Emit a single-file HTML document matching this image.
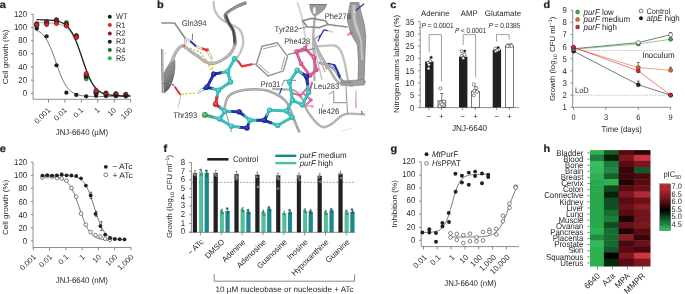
<!DOCTYPE html>
<html><head><meta charset="utf-8"><style>
html,body{margin:0;padding:0;background:#fff;}
svg{display:block;font-family:"Liberation Sans",sans-serif;will-change:transform;text-rendering:geometricPrecision;}
</style></head><body>
<svg width="685" height="294" viewBox="0 0 685 294" fill="#231f20">
<text transform="translate(-0.3 8) scale(1 0.95)" font-size="11" font-weight="bold" stroke="#231f20" stroke-width="0.25">a</text>
<line x1="33.1" y1="14" x2="33.1" y2="99.3" stroke="#6a6a6a" stroke-width="0.75" />
<line x1="30.9" y1="93.3" x2="33.1" y2="93.3" stroke="#6a6a6a" stroke-width="0.75" />
<text transform="translate(27 95.9) scale(1 1.09)" font-size="7.8" text-anchor="end" >0</text>
<line x1="30.9" y1="80.15" x2="33.1" y2="80.15" stroke="#6a6a6a" stroke-width="0.75" />
<text transform="translate(27 82.75) scale(1 1.09)" font-size="7.8" text-anchor="end" >20</text>
<line x1="30.9" y1="67" x2="33.1" y2="67" stroke="#6a6a6a" stroke-width="0.75" />
<text transform="translate(27 69.6) scale(1 1.09)" font-size="7.8" text-anchor="end" >40</text>
<line x1="30.9" y1="53.85" x2="33.1" y2="53.85" stroke="#6a6a6a" stroke-width="0.75" />
<text transform="translate(27 56.45) scale(1 1.09)" font-size="7.8" text-anchor="end" >60</text>
<line x1="30.9" y1="40.7" x2="33.1" y2="40.7" stroke="#6a6a6a" stroke-width="0.75" />
<text transform="translate(27 43.3) scale(1 1.09)" font-size="7.8" text-anchor="end" >80</text>
<line x1="30.9" y1="27.55" x2="33.1" y2="27.55" stroke="#6a6a6a" stroke-width="0.75" />
<text transform="translate(27 30.15) scale(1 1.09)" font-size="7.8" text-anchor="end" >100</text>
<line x1="30.9" y1="14.4" x2="33.1" y2="14.4" stroke="#6a6a6a" stroke-width="0.75" />
<text transform="translate(27 17) scale(1 1.09)" font-size="7.8" text-anchor="end" >120</text>
<line x1="33.1" y1="99.3" x2="131" y2="99.3" stroke="#6a6a6a" stroke-width="0.75" />
<line x1="48.5" y1="99.3" x2="48.5" y2="102.7" stroke="#6a6a6a" stroke-width="0.75" />
<line x1="64.92" y1="99.3" x2="64.92" y2="102.7" stroke="#6a6a6a" stroke-width="0.75" />
<line x1="81.34" y1="99.3" x2="81.34" y2="102.7" stroke="#6a6a6a" stroke-width="0.75" />
<line x1="97.76" y1="99.3" x2="97.76" y2="102.7" stroke="#6a6a6a" stroke-width="0.75" />
<line x1="114.18" y1="99.3" x2="114.18" y2="102.7" stroke="#6a6a6a" stroke-width="0.75" />
<line x1="130.6" y1="99.3" x2="130.6" y2="102.7" stroke="#6a6a6a" stroke-width="0.75" />
<text transform="translate(51 110.8) rotate(-44)" font-size="7.696000000000001" text-anchor="end" >0.001</text>
<text transform="translate(67.42 110.8) rotate(-44)" font-size="7.696000000000001" text-anchor="end" >0.01</text>
<text transform="translate(83.84 110.8) rotate(-44)" font-size="7.696000000000001" text-anchor="end" >0.1</text>
<text transform="translate(100.26 110.8) rotate(-44)" font-size="7.696000000000001" text-anchor="end" >1</text>
<text transform="translate(116.68 110.8) rotate(-44)" font-size="7.696000000000001" text-anchor="end" >10</text>
<text transform="translate(133.1 110.8) rotate(-44)" font-size="7.696000000000001" text-anchor="end" >100</text>
<text transform="translate(81.9 134.8) scale(1 1.09)" font-size="7.6" text-anchor="middle" textLength="52.4" lengthAdjust="spacingAndGlyphs" >JNJ-6640 (µM)</text>
<text transform="translate(7.7 56.85) scale(1 1.09) rotate(-90)" font-size="7.4" text-anchor="middle" textLength="50.18" lengthAdjust="spacingAndGlyphs" >Cell growth (%)</text>
<polyline points="36.6,30.27 37.77,30.82 38.94,31.47 40.1,32.25 41.27,33.18 42.44,34.26 43.61,35.52 44.77,36.99 45.94,38.68 47.11,40.61 48.28,42.78 49.44,45.19 50.61,47.85 51.78,50.73 52.95,53.79 54.11,57 55.28,60.3 56.45,63.63 57.62,66.94 58.78,70.15 59.95,73.23 61.12,76.12 62.29,78.79 63.45,81.22 64.62,83.4 65.79,85.34 66.95,87.05 68.12,88.53 69.29,89.8 70.46,90.9 71.62,91.83 72.79,92.62 73.96,93.28 75.13,93.84 76.3,94.31 77.46,94.7 78.63,95.02 79.8,95.29 80.97,95.52 82.13,95.7 83.3,95.86 84.47,95.98 85.64,96.09 86.8,96.18 87.97,96.25 89.14,96.31 90.31,96.36 91.47,96.4 92.64,96.43 93.81,96.46 94.97,96.48 96.14,96.5 97.31,96.51 98.48,96.53 99.65,96.54 100.81,96.55 101.98,96.55 103.15,96.56 104.31,96.56 105.48,96.57 106.65,96.57 107.82,96.57 108.99,96.58 110.15,96.58 111.32,96.58 112.49,96.58 113.66,96.58 114.82,96.58 115.99,96.58 117.16,96.58 118.32,96.59 119.49,96.59 120.66,96.59 121.83,96.59 123,96.59 124.16,96.59 125.33,96.59 126.5,96.59 127.67,96.59 128.83,96.59 130,96.59" fill="none" stroke="#231f20" stroke-width="0.6" stroke-linejoin="round" stroke-linecap="round" />
<polyline points="37,22.67 38.16,22.68 39.33,22.69 40.49,22.71 41.65,22.73 42.81,22.75 43.98,22.78 45.14,22.81 46.3,22.85 47.46,22.9 48.62,22.95 49.79,23.02 50.95,23.1 52.11,23.19 53.27,23.31 54.44,23.45 55.6,23.61 56.76,23.81 57.92,24.05 59.09,24.33 60.25,24.67 61.41,25.07 62.58,25.55 63.74,26.12 64.9,26.78 66.06,27.57 67.22,28.49 68.39,29.57 69.55,30.82 70.71,32.27 71.88,33.92 73.04,35.8 74.2,37.91 75.36,40.27 76.53,42.85 77.69,45.67 78.85,48.68 80.01,51.85 81.17,55.15 82.34,58.51 83.5,61.89 84.66,65.22 85.83,68.46 86.99,71.55 88.15,74.45 89.31,77.14 90.47,79.6 91.64,81.83 92.8,83.81 93.96,85.56 95.12,87.1 96.29,88.43 97.45,89.59 98.61,90.58 99.78,91.43 100.94,92.15 102.1,92.76 103.26,93.27 104.42,93.71 105.59,94.07 106.75,94.38 107.91,94.63 109.08,94.85 110.24,95.03 111.4,95.18 112.56,95.3 113.72,95.41 114.89,95.5 116.05,95.57 117.21,95.63 118.38,95.68 119.54,95.72 120.7,95.76 121.86,95.79 123.03,95.81 124.19,95.83 125.35,95.85 126.51,95.86 127.67,95.87 128.84,95.88 130,95.89" fill="none" stroke="#555" stroke-width="0.5" stroke-linejoin="round" stroke-linecap="round" />
<polyline points="37,19.72 38.16,19.73 39.33,19.75 40.49,19.76 41.65,19.79 42.81,19.81 43.98,19.84 45.14,19.88 46.3,19.92 47.46,19.98 48.62,20.04 49.79,20.12 50.95,20.21 52.11,20.32 53.27,20.45 54.44,20.61 55.6,20.8 56.76,21.02 57.92,21.29 59.09,21.62 60.25,22 61.41,22.46 62.58,23 63.74,23.64 64.9,24.4 66.06,25.29 67.22,26.33 68.39,27.54 69.55,28.94 70.71,30.56 71.88,32.4 73.04,34.48 74.2,36.8 75.36,39.38 76.53,42.19 77.69,45.23 78.85,48.46 80.01,51.83 81.17,55.3 82.34,58.82 83.5,62.31 84.66,65.74 85.83,69.03 86.99,72.15 88.15,75.06 89.31,77.74 90.47,80.17 91.64,82.35 92.8,84.29 93.96,86 95.12,87.48 96.29,88.77 97.45,89.88 98.61,90.84 99.78,91.65 100.94,92.33 102.1,92.92 103.26,93.41 104.42,93.82 105.59,94.17 106.75,94.46 107.91,94.7 109.08,94.91 110.24,95.08 111.4,95.22 112.56,95.34 113.72,95.44 114.89,95.52 116.05,95.59 117.21,95.65 118.38,95.69 119.54,95.73 120.7,95.77 121.86,95.79 123.03,95.82 124.19,95.84 125.35,95.85 126.51,95.86 127.67,95.88 128.84,95.88 130,95.89" fill="none" stroke="#231f20" stroke-width="1.25" stroke-linejoin="round" stroke-linecap="round" />
<circle cx="36.7" cy="24.92" r="2.15" fill="#35b04e" stroke="#231f20" stroke-width="0.45"/>
<circle cx="36.7" cy="24.92" r="2.15" fill="#156b33" stroke="#231f20" stroke-width="0.45"/>
<circle cx="36.7" cy="25.58" r="2.15" fill="#231f20" stroke="#231f20" stroke-width="0.45"/>
<circle cx="36.7" cy="23.61" r="2.15" fill="#8e1b20" stroke="#231f20" stroke-width="0.45"/>
<circle cx="36.7" cy="24.92" r="2.15" fill="#e2202a" stroke="#231f20" stroke-width="0.45"/>
<circle cx="36.7" cy="28.6" r="2.15" fill="#231f20"/>
<circle cx="46.6" cy="22.95" r="2.15" fill="#35b04e" stroke="#231f20" stroke-width="0.45"/>
<circle cx="46.6" cy="21.63" r="2.15" fill="#156b33" stroke="#231f20" stroke-width="0.45"/>
<circle cx="46.6" cy="23.61" r="2.15" fill="#231f20" stroke="#231f20" stroke-width="0.45"/>
<circle cx="46.6" cy="22.29" r="2.15" fill="#8e1b20" stroke="#231f20" stroke-width="0.45"/>
<circle cx="46.6" cy="24.59" r="2.15" fill="#e2202a" stroke="#231f20" stroke-width="0.45"/>
<circle cx="46.6" cy="36.36" r="2.15" fill="#231f20"/>
<circle cx="56.5" cy="22.29" r="2.15" fill="#35b04e" stroke="#231f20" stroke-width="0.45"/>
<circle cx="56.5" cy="20.97" r="2.15" fill="#156b33" stroke="#231f20" stroke-width="0.45"/>
<circle cx="56.5" cy="20.32" r="2.15" fill="#231f20" stroke="#231f20" stroke-width="0.45"/>
<circle cx="56.5" cy="19.66" r="2.15" fill="#8e1b20" stroke="#231f20" stroke-width="0.45"/>
<circle cx="56.5" cy="23.61" r="2.15" fill="#e2202a" stroke="#231f20" stroke-width="0.45"/>
<circle cx="56.5" cy="65.36" r="2.15" fill="#231f20"/>
<circle cx="66.4" cy="24.92" r="2.15" fill="#35b04e" stroke="#231f20" stroke-width="0.45"/>
<circle cx="66.4" cy="22.62" r="2.15" fill="#156b33" stroke="#231f20" stroke-width="0.45"/>
<circle cx="66.4" cy="24.92" r="2.15" fill="#231f20" stroke="#231f20" stroke-width="0.45"/>
<circle cx="66.4" cy="24.26" r="2.15" fill="#8e1b20" stroke="#231f20" stroke-width="0.45"/>
<circle cx="66.4" cy="25.91" r="2.15" fill="#e2202a" stroke="#231f20" stroke-width="0.45"/>
<circle cx="66.4" cy="92.64" r="2.15" fill="#231f20"/>
<circle cx="76.3" cy="37.41" r="2.15" fill="#35b04e" stroke="#231f20" stroke-width="0.45"/>
<circle cx="76.3" cy="36.1" r="2.15" fill="#156b33" stroke="#231f20" stroke-width="0.45"/>
<circle cx="76.3" cy="36.76" r="2.15" fill="#231f20" stroke="#231f20" stroke-width="0.45"/>
<circle cx="76.3" cy="35.44" r="2.15" fill="#8e1b20" stroke="#231f20" stroke-width="0.45"/>
<circle cx="76.3" cy="37.41" r="2.15" fill="#e2202a" stroke="#231f20" stroke-width="0.45"/>
<circle cx="76.3" cy="94.94" r="2.15" fill="#231f20"/>
<circle cx="86.2" cy="78.83" r="2.15" fill="#35b04e" stroke="#231f20" stroke-width="0.45"/>
<circle cx="86.2" cy="76.86" r="2.15" fill="#156b33" stroke="#231f20" stroke-width="0.45"/>
<circle cx="86.2" cy="76.2" r="2.15" fill="#231f20" stroke="#231f20" stroke-width="0.45"/>
<circle cx="86.2" cy="74.89" r="2.15" fill="#8e1b20" stroke="#231f20" stroke-width="0.45"/>
<circle cx="86.2" cy="73.58" r="2.15" fill="#e2202a" stroke="#231f20" stroke-width="0.45"/>
<circle cx="86.2" cy="96.32" r="2.15" fill="#231f20"/>
<circle cx="96.1" cy="92.64" r="2.15" fill="#35b04e" stroke="#231f20" stroke-width="0.45"/>
<circle cx="96.1" cy="92.64" r="2.15" fill="#156b33" stroke="#231f20" stroke-width="0.45"/>
<circle cx="96.1" cy="93.3" r="2.15" fill="#231f20" stroke="#231f20" stroke-width="0.45"/>
<circle cx="96.1" cy="91.33" r="2.15" fill="#8e1b20" stroke="#231f20" stroke-width="0.45"/>
<circle cx="96.1" cy="90.34" r="2.15" fill="#e2202a" stroke="#231f20" stroke-width="0.45"/>
<circle cx="96.1" cy="95.8" r="2.15" fill="#231f20"/>
<circle cx="106" cy="94.29" r="2.15" fill="#35b04e" stroke="#231f20" stroke-width="0.45"/>
<circle cx="106" cy="92.97" r="2.15" fill="#156b33" stroke="#231f20" stroke-width="0.45"/>
<circle cx="106" cy="93.96" r="2.15" fill="#231f20" stroke="#231f20" stroke-width="0.45"/>
<circle cx="106" cy="93.63" r="2.15" fill="#8e1b20" stroke="#231f20" stroke-width="0.45"/>
<circle cx="106" cy="94.61" r="2.15" fill="#e2202a" stroke="#231f20" stroke-width="0.45"/>
<circle cx="106" cy="96.06" r="2.15" fill="#231f20"/>
<circle cx="115.9" cy="93.96" r="2.15" fill="#35b04e" stroke="#231f20" stroke-width="0.45"/>
<circle cx="115.9" cy="93.63" r="2.15" fill="#156b33" stroke="#231f20" stroke-width="0.45"/>
<circle cx="115.9" cy="94.94" r="2.15" fill="#231f20" stroke="#231f20" stroke-width="0.45"/>
<circle cx="115.9" cy="94.29" r="2.15" fill="#8e1b20" stroke="#231f20" stroke-width="0.45"/>
<circle cx="115.9" cy="94.94" r="2.15" fill="#e2202a" stroke="#231f20" stroke-width="0.45"/>
<circle cx="115.9" cy="96.19" r="2.15" fill="#231f20"/>
<circle cx="125.8" cy="94.94" r="2.15" fill="#35b04e" stroke="#231f20" stroke-width="0.45"/>
<circle cx="125.8" cy="94.29" r="2.15" fill="#156b33" stroke="#231f20" stroke-width="0.45"/>
<circle cx="125.8" cy="95.6" r="2.15" fill="#231f20" stroke="#231f20" stroke-width="0.45"/>
<circle cx="125.8" cy="94.61" r="2.15" fill="#8e1b20" stroke="#231f20" stroke-width="0.45"/>
<circle cx="125.8" cy="95.27" r="2.15" fill="#e2202a" stroke="#231f20" stroke-width="0.45"/>
<circle cx="125.8" cy="96.26" r="2.15" fill="#231f20"/>
<circle cx="109.8" cy="16.8" r="2" fill="#231f20"/>
<text transform="translate(116 19.4) scale(1 1.09)" font-size="7.4" >WT</text>
<circle cx="109.8" cy="25.1" r="2" fill="#e2202a"/>
<text transform="translate(116 27.7) scale(1 1.09)" font-size="7.4" >R1</text>
<circle cx="109.8" cy="33.4" r="2" fill="#8e1b20"/>
<text transform="translate(116 36) scale(1 1.09)" font-size="7.4" >R2</text>
<circle cx="109.8" cy="41.7" r="2" fill="#231f20"/>
<text transform="translate(116 44.3) scale(1 1.09)" font-size="7.4" >R3</text>
<circle cx="109.8" cy="50" r="2" fill="#156b33"/>
<text transform="translate(116 52.6) scale(1 1.09)" font-size="7.4" >R4</text>
<circle cx="109.8" cy="58.3" r="2" fill="#35b04e"/>
<text transform="translate(116 60.9) scale(1 1.09)" font-size="7.4" >R5</text>
<text transform="translate(157 7.6) scale(1 0.95)" font-size="11" font-weight="bold" stroke="#231f20" stroke-width="0.25">b</text>
<path d="M213.5,2 C213.75,3.5 213.75,8.17 215,11 C216.25,13.83 218.17,16.67 221,19 C223.83,21.33 228.83,23.17 232,25 C235.17,26.83 238.12,27.17 240,30 C241.88,32.83 243.13,38.5 243.3,42 C243.47,45.5 242.05,48.33 241,51 C239.95,53.67 237.67,56.83 237,58" fill="none" stroke="#c2c2c2" stroke-width="2.3" stroke-linejoin="round" stroke-linecap="round" />
<path d="M297.5,3 C298.08,4.83 300,10.17 301,14 C302,17.83 302.83,22.33 303.5,26 C304.17,29.67 304.58,32.67 305,36 C305.42,39.33 305.83,44.33 306,46" fill="none" stroke="#d2d2d2" stroke-width="1.9" stroke-linejoin="round" stroke-linecap="round" />
<path d="M245,3.2 C243.5,3.83 239.25,5.12 236,7 C232.75,8.88 226.83,12 225.5,14.5 C224.17,17 226.68,19.25 228,22 C229.32,24.75 232.23,27.33 233.4,31 C234.57,34.67 235.48,40.27 235,44 C234.52,47.73 232.75,50.65 230.5,53.4 C228.25,56.15 224.5,58.8 221.5,60.5 C218.5,62.2 215.25,63.43 212.5,63.6 C209.75,63.77 207.25,62.6 205,61.5 C202.75,60.4 201.17,58.55 199,57 C196.83,55.45 194.17,53.73 192,52.2 C189.83,50.67 187.7,48.85 186,47.8 C184.3,46.75 183.47,45.2 181.8,45.9 C180.13,46.6 177.63,49.48 176,52 C174.37,54.52 173.5,58 172,61 C170.5,64 167.83,68.5 167,70" fill="none" stroke="#a2a2a2" stroke-width="3.105" stroke-linejoin="round" stroke-linecap="round" />
<path d="M245,3.2 C243.5,3.83 239.25,5.12 236,7 C232.75,8.88 226.83,12 225.5,14.5 C224.17,17 226.68,19.25 228,22 C229.32,24.75 232.23,27.33 233.4,31 C234.57,34.67 235.48,40.27 235,44 C234.52,47.73 232.75,50.65 230.5,53.4 C228.25,56.15 224.5,58.8 221.5,60.5 C218.5,62.2 215.25,63.43 212.5,63.6 C209.75,63.77 207.25,62.6 205,61.5 C202.75,60.4 201.17,58.55 199,57 C196.83,55.45 194.17,53.73 192,52.2 C189.83,50.67 187.7,48.85 186,47.8 C184.3,46.75 183.47,45.2 181.8,45.9 C180.13,46.6 177.63,49.48 176,52 C174.37,54.52 173.5,58 172,61 C170.5,64 167.83,68.5 167,70" fill="none" stroke="#cdcdcd" stroke-width="1.0867499999999999" stroke-linejoin="round" stroke-linecap="round" opacity="0.8"/>
<path d="M245,3.2 C243.5,3.83 239.25,5.12 236,7 C232.75,8.88 226.83,12 225.5,14.5 C224.17,17 226.68,19.25 228,22 C229.32,24.75 232.23,27.33 233.4,31 C234.57,34.67 234.73,41.83 235,44" fill="none" stroke="#858585" stroke-width="3.1" stroke-linejoin="round" stroke-linecap="round" />
<path d="M226.2,15.5 C226.6,16.58 227.4,19.42 228.6,22 C229.8,24.58 232.4,27.67 233.4,31 C234.4,34.33 234.4,40.17 234.6,42" fill="none" stroke="#4a4a4a" stroke-width="2.2" stroke-linejoin="round" stroke-linecap="round" />
<path d="M244,3.4 C242.67,4.07 238.83,5.6 236,7.4 C233.17,9.2 228.5,13.07 227,14.2" fill="none" stroke="#a8a8a8" stroke-width="1.0" stroke-linejoin="round" stroke-linecap="round" />
<defs><linearGradient id="lr" x1="0" y1="0" x2="0.4" y2="1"><stop offset="0" stop-color="#a0a0a0"/><stop offset="0.55" stop-color="#858585"/><stop offset="1" stop-color="#555"/></linearGradient></defs>
<path d="M161.3,49 L163.6,49 L164.2,93 L161.9,93 Z" fill="#bdbdbd"/>
<path d="M161.3,49 L161.9,49 L162.5,93 L161.9,93 Z" fill="#5a5a5a"/>
<path d="M163.4,74 C165.5,67.5 170,63 175.2,59.5 L175.4,67 C175,75 172.5,83 169,89 L164.2,93.5 Z" fill="url(#lr)"/>
<line x1="163.2" y1="83.6" x2="171.5" y2="83.6" stroke="#6a6a6a" stroke-width="1.3" />
<line x1="163.6" y1="53.4" x2="166.6" y2="53.6" stroke="#e0e0e0" stroke-width="1.3" />
<path d="M224.5,108 C225.08,106.17 225.75,99.8 228,97 C230.25,94.2 233.5,92.5 238,91.2 C242.5,89.9 249.67,89.15 255,89.2 C260.33,89.25 264.9,89.53 270,91.5 C275.1,93.47 281.72,96.58 285.6,101 C289.48,105.42 291.07,112.92 293.3,118 C295.53,123.08 298.05,129.25 299,131.5" fill="none" stroke="#9c9c9c" stroke-width="2.53" stroke-linejoin="round" stroke-linecap="round" />
<path d="M224.5,108 C225.08,106.17 225.75,99.8 228,97 C230.25,94.2 233.5,92.5 238,91.2 C242.5,89.9 249.67,89.15 255,89.2 C260.33,89.25 264.9,89.53 270,91.5 C275.1,93.47 281.72,96.58 285.6,101 C289.48,105.42 291.07,112.92 293.3,118 C295.53,123.08 298.05,129.25 299,131.5" fill="none" stroke="#c9c9c9" stroke-width="0.8854999999999998" stroke-linejoin="round" stroke-linecap="round" opacity="0.8"/>
<path d="M273,88.8 C275,88.92 281.33,89.17 285,89.5 C288.67,89.83 292,89.05 295,90.8 C298,92.55 300.83,96.47 303,100 C305.17,103.53 305.05,107.62 308,112 C310.95,116.38 316.87,124.23 320.7,126.3 C324.53,128.37 326.95,126.42 331,124.4 C335.05,122.38 339.5,115.85 345,114.2 C350.5,112.55 360.83,114.45 364,114.5" fill="none" stroke="#b2b2b2" stroke-width="2.415" stroke-linejoin="round" stroke-linecap="round" />
<line x1="225.5" y1="111" x2="231.5" y2="132" stroke="#a0a0a0" stroke-width="1.1" />
<line x1="291" y1="109" x2="299.2" y2="131.6" stroke="#a8a8a8" stroke-width="1.0" />
<line x1="341.1" y1="131.2" x2="351.3" y2="128.5" stroke="#e4e4e4" stroke-width="1.0" />
<path d="M316,46.5 C319,46.33 329.92,44.83 334,45.5 C338.08,46.17 338.75,47.75 340.5,50.5 C342.25,53.25 343.5,58.42 344.5,62 C345.5,65.58 345.92,69 346.5,72 C347.08,75 347.08,77.67 348,80 C348.92,82.33 351.33,85 352,86" fill="none" stroke="#c2c2c2" stroke-width="2.415" stroke-linejoin="round" stroke-linecap="round" />
<path d="M314,40 C314.67,41.67 316.33,46.5 318,50 C319.67,53.5 321.83,57.33 324,61 C326.17,64.67 329,68.83 331,72 C333,75.17 334.17,78 336,80 C337.83,82 339.33,83.5 342,84 C344.67,84.5 349,83.67 352,83 C355,82.33 358.67,80.5 360,80" fill="none" stroke="#a4a4a4" stroke-width="2.53" stroke-linejoin="round" stroke-linecap="round" />
<path d="M314,40 C314.67,41.67 316.33,46.5 318,50 C319.67,53.5 321.83,57.33 324,61 C326.17,64.67 329,68.83 331,72 C333,75.17 334.17,78 336,80 C337.83,82 339.33,83.5 342,84 C344.67,84.5 349,83.67 352,83 C355,82.33 358.67,80.5 360,80" fill="none" stroke="#c8c8c8" stroke-width="0.8854999999999998" stroke-linejoin="round" stroke-linecap="round" opacity="0.8"/>
<path d="M320,63 C321.33,63.33 325.5,63.83 328,65 C330.5,66.17 333,67.83 335,70 C337,72.17 338.25,75.83 340,78 C341.75,80.17 343,82.08 345.5,83 C348,83.92 351.83,83.67 355,83.5 C358.17,83.33 362.92,82.25 364.5,82" fill="none" stroke="#9a9a9a" stroke-width="2.76" stroke-linejoin="round" stroke-linecap="round" />
<path d="M320,63 C321.33,63.33 325.5,63.83 328,65 C330.5,66.17 333,67.83 335,70 C337,72.17 338.25,75.83 340,78 C341.75,80.17 343,82.08 345.5,83 C348,83.92 351.83,83.67 355,83.5 C358.17,83.33 362.92,82.25 364.5,82" fill="none" stroke="#c0c0c0" stroke-width="0.9659999999999999" stroke-linejoin="round" stroke-linecap="round" opacity="0.8"/>
<polyline points="333.6,64.8 337.1,70.7 339.5,77.9" fill="none" stroke="#2535b0" stroke-width="1.4" stroke-linejoin="round" stroke-linecap="round" />
<path d="M350.2,2.5 L358.8,2.5 L361.5,14 L364.3,24 L365.8,36 L365,55 L364,82 L358,82 L358.5,62 L357.5,45 L350.5,33 L347.3,20 Z" fill="#9c9c9c" stroke="#6a6a6a" stroke-width="0.6"/>
<path d="M352.5,5 L355.5,5 L355.8,20 L359,30 L362,40 L363,60 L361.2,60 L360,40 L355.5,30 L352.5,18 Z" fill="#c4c4c4"/>
<path d="M341,81 L358,80 L364,79.5 L364.5,85 L350,86 L341,85 Z" fill="#a0a0a0" stroke="#777" stroke-width="0.5"/>
<path d="M309.3,4 L326.8,4 C326.8,9 322,12 316.2,16 L313.6,16 C310.8,12.5 309.4,9.5 309.3,4 Z" fill="#9a9a9a"/>
<path d="M309.3,4 L326.8,4 L326.6,5 L309.5,5 Z" fill="#777"/>
<ellipse cx="314.4" cy="10.5" rx="1.5" ry="3.5" fill="#f0f0f0"/>
<path d="M315.2,15 C314.93,17.5 313.9,25 313.6,30 C313.3,35 313.3,40 313.4,45 C313.5,50 314.03,54.17 314.2,60 C314.37,65.83 314.37,76.67 314.4,80" fill="none" stroke="#9a9a9a" stroke-width="2.2" stroke-linejoin="round" stroke-linecap="round" />
<path d="M315.2,15 C314.93,17.5 313.9,25 313.6,30 C313.3,35 313.3,40 313.4,45 C313.5,50 314.03,54.17 314.2,60 C314.37,65.83 314.37,76.67 314.4,80" fill="none" stroke="#c8c8c8" stroke-width="0.8" stroke-linejoin="round" stroke-linecap="round" />
<line x1="313.5" y1="42" x2="325" y2="72" stroke="#b2b2b2" stroke-width="1.4" />
<line x1="314.5" y1="48" x2="322" y2="80" stroke="#bdbdbd" stroke-width="1.2" />
<line x1="313" y1="40" x2="320.5" y2="35" stroke="#a0a0a0" stroke-width="1.3" />
<polyline points="302.6,20.7 311.8,18.4 325.5,20.7 327.8,24.5 319.4,27.6 307.2,26.8 302.6,20.7" fill="none" stroke="#8a8a8a" stroke-width="1.6" stroke-linejoin="round" stroke-linecap="round" />
<line x1="327.8" y1="24.5" x2="347.5" y2="27" stroke="#8a8a8a" stroke-width="1.6" />
<line x1="307.2" y1="26.8" x2="298" y2="29" stroke="#8a8a8a" stroke-width="1.1" />
<polyline points="256.1,64.9 262,46.2 277.3,42.8 287.6,56.4 283.3,70.9 268,76 256.1,64.9" fill="none" stroke="#999999" stroke-width="1.5" stroke-linejoin="round" stroke-linecap="round" />
<polyline points="263.5,48.8 276.5,45.6" fill="none" stroke="#9a9a9a" stroke-width="1.0" stroke-linejoin="round" stroke-linecap="round" />
<polyline points="284.8,57 281.2,69.5" fill="none" stroke="#9a9a9a" stroke-width="1.0" stroke-linejoin="round" stroke-linecap="round" />
<polyline points="258.6,64.2 268.8,73.2" fill="none" stroke="#9a9a9a" stroke-width="1.0" stroke-linejoin="round" stroke-linecap="round" />
<line x1="287.6" y1="54.6" x2="314.8" y2="48.5" stroke="#8c8c8c" stroke-width="1.4" />
<line x1="251.6" y1="64.4" x2="255.6" y2="64.1" stroke="#8c8c8c" stroke-width="1.3" />
<polyline points="161.9,23 174.6,23 185.6,39" fill="none" stroke="#8a8a8a" stroke-width="1.6" stroke-linejoin="round" stroke-linecap="round" />
<line x1="185.6" y1="39" x2="185.2" y2="45" stroke="#9a9a9a" stroke-width="2.2" />
<line x1="185.6" y1="39" x2="185.2" y2="45" stroke="#e8e8e8" stroke-width="1.4" />
<line x1="185.6" y1="39" x2="190.2" y2="41.1" stroke="#9a9a9a" stroke-width="2.2" />
<line x1="185.6" y1="39" x2="190.2" y2="41.1" stroke="#e8e8e8" stroke-width="1.4" />
<line x1="190.2" y1="41.1" x2="196.3" y2="46.5" stroke="#2535b0" stroke-width="2.0" />
<line x1="192.5" y1="33.7" x2="192.3" y2="40" stroke="#555" stroke-width="0.8" />
<line x1="196.3" y1="46.5" x2="202" y2="48.5" stroke="#9a9a9a" stroke-width="2.6" />
<line x1="196.3" y1="46.5" x2="202" y2="48.5" stroke="#eeeeee" stroke-width="1.8" />
<line x1="202" y1="48.5" x2="207.8" y2="50.3" stroke="#e0383c" stroke-width="2.4" />
<circle cx="207.2" cy="50.2" r="1.9" fill="#e0383c"/>
<line x1="207.8" y1="51" x2="211.7" y2="58.7" stroke="#9a9a9a" stroke-width="2.6" />
<line x1="207.8" y1="51" x2="211.7" y2="58.7" stroke="#f0f0f0" stroke-width="1.8" />
<line x1="211.7" y1="58.7" x2="211.4" y2="56" stroke="#bbb" stroke-width="0.6" />
<circle cx="184.1" cy="45.7" r="1" fill="#e0383c"/>
<line x1="169.5" y1="83" x2="174.3" y2="85.5" stroke="#8a8a8a" stroke-width="1.8" />
<line x1="174.6" y1="86.5" x2="180.5" y2="94.9" stroke="#e0383c" stroke-width="2.0" />
<line x1="181" y1="95" x2="178" y2="107.2" stroke="#9a9a9a" stroke-width="0.6" />
<polyline points="186,46.8 200,52 206,60 212.5,72.5" fill="none" stroke="#c8c83a" stroke-width="1.2" stroke-dasharray="2.3 1.5"/>
<line x1="211.8" y1="59.5" x2="213.2" y2="72.5" stroke="#c8c83a" stroke-width="1.2" stroke-dasharray="2.3 1.5"/>
<line x1="181.5" y1="94.3" x2="196" y2="92.8" stroke="#c8c83a" stroke-width="1.2" stroke-dasharray="2.3 1.5"/>
<polyline points="281.8,85.7 284.1,80.4 295.6,80.4" fill="none" stroke="#9a9a9a" stroke-width="1.1" stroke-linejoin="round" stroke-linecap="round" />
<line x1="281.8" y1="88" x2="279.5" y2="94.1" stroke="#2535b0" stroke-width="1.1" />
<polyline points="329.1,94.1 333.7,91.1" fill="none" stroke="#9a9a9a" stroke-width="1.1" stroke-linejoin="round" stroke-linecap="round" />
<polyline points="333.7,91.8 333.7,102.6 346,102.6" fill="none" stroke="#9a9a9a" stroke-width="1.1" stroke-linejoin="round" stroke-linecap="round" />
<polyline points="346,86.5 347.5,113.3" fill="none" stroke="#9a9a9a" stroke-width="1.1" stroke-linejoin="round" stroke-linecap="round" />
<polyline points="342.9,82.7 352.1,82.7" fill="none" stroke="#8a8a8a" stroke-width="1.3" stroke-linejoin="round" stroke-linecap="round" />
<line x1="355.9" y1="90.5" x2="355.9" y2="98" stroke="#b0b0b0" stroke-width="1.1" />
<line x1="355.9" y1="98" x2="355.9" y2="108" stroke="#e67a7a" stroke-width="1.1" />
<line x1="322.6" y1="103.5" x2="322.8" y2="107" stroke="#e67a7a" stroke-width="0.8" />
<line x1="361.5" y1="111" x2="362.3" y2="114" stroke="#2535b0" stroke-width="0.9" />
<polyline points="319.4,37.5 324,29.9 327.8,30.6" fill="none" stroke="#2535b0" stroke-width="1.3" stroke-linejoin="round" stroke-linecap="round" />
<line x1="327.8" y1="30.6" x2="333.2" y2="32.2" stroke="#c8c8c8" stroke-width="1.2" />
<line x1="355.6" y1="10.7" x2="364" y2="3.8" stroke="#2535b0" stroke-width="1.3" />
<line x1="353.5" y1="12.5" x2="355.6" y2="10.7" stroke="#d0d0d0" stroke-width="1.3" />
<polyline points="328,63.3 334.9,64.9 340.3,76.3" fill="none" stroke="#2535b0" stroke-width="1.3" stroke-linejoin="round" stroke-linecap="round" />
<line x1="320.6" y1="35" x2="318" y2="41.5" stroke="#2535b0" stroke-width="1.1" />
<line x1="347.2" y1="34.5" x2="352.5" y2="31.4" stroke="#e0383c" stroke-width="0.8" />
<line x1="347.9" y1="35.6" x2="353.2" y2="32.5" stroke="#e0383c" stroke-width="0.8" />
<line x1="325.5" y1="66.5" x2="326.5" y2="69.5" stroke="#e0383c" stroke-width="0.9" />
<line x1="296.3" y1="51.5" x2="304.8" y2="48.4" stroke="#c04480" stroke-width="2.6" stroke-linecap="round"/>
<line x1="296.3" y1="51.5" x2="304.8" y2="48.4" stroke="#e4609e" stroke-width="1.8719999999999999" stroke-linecap="round"/>
<line x1="304.8" y1="48.4" x2="314" y2="57.6" stroke="#c04480" stroke-width="2.6" stroke-linecap="round"/>
<line x1="304.8" y1="48.4" x2="314" y2="57.6" stroke="#e4609e" stroke-width="1.8719999999999999" stroke-linecap="round"/>
<line x1="314" y1="57.6" x2="316.3" y2="69.9" stroke="#c04480" stroke-width="2.6" stroke-linecap="round"/>
<line x1="314" y1="57.6" x2="316.3" y2="69.9" stroke="#e4609e" stroke-width="1.8719999999999999" stroke-linecap="round"/>
<line x1="316.3" y1="69.9" x2="310.1" y2="75.5" stroke="#c04480" stroke-width="2.6" stroke-linecap="round"/>
<line x1="316.3" y1="69.9" x2="310.1" y2="75.5" stroke="#e4609e" stroke-width="1.8719999999999999" stroke-linecap="round"/>
<line x1="310.1" y1="75.5" x2="301" y2="63.7" stroke="#c04480" stroke-width="2.6" stroke-linecap="round"/>
<line x1="310.1" y1="75.5" x2="301" y2="63.7" stroke="#e4609e" stroke-width="1.8719999999999999" stroke-linecap="round"/>
<line x1="301" y1="63.7" x2="296.3" y2="51.5" stroke="#c04480" stroke-width="2.6" stroke-linecap="round"/>
<line x1="301" y1="63.7" x2="296.3" y2="51.5" stroke="#e4609e" stroke-width="1.8719999999999999" stroke-linecap="round"/>
<line x1="304.6" y1="47.9" x2="307.5" y2="44.5" stroke="#e4609e" stroke-width="1.8" />
<circle cx="296.3" cy="51.5" r="2.35" fill="#c04480"/>
<circle cx="296.05" cy="51.25" r="1.7" fill="#e4609e"/>
<circle cx="295.7" cy="50.9" r="0.75" fill="#f098c4"/>
<circle cx="304.8" cy="48.4" r="2.35" fill="#c04480"/>
<circle cx="304.55" cy="48.15" r="1.7" fill="#e4609e"/>
<circle cx="304.2" cy="47.8" r="0.75" fill="#f098c4"/>
<circle cx="314" cy="57.6" r="2.35" fill="#c04480"/>
<circle cx="313.75" cy="57.35" r="1.7" fill="#e4609e"/>
<circle cx="313.4" cy="57" r="0.75" fill="#f098c4"/>
<circle cx="316.3" cy="69.9" r="2.35" fill="#c04480"/>
<circle cx="316.05" cy="69.65" r="1.7" fill="#e4609e"/>
<circle cx="315.7" cy="69.3" r="0.75" fill="#f098c4"/>
<circle cx="310.1" cy="75.5" r="2.35" fill="#c04480"/>
<circle cx="309.85" cy="75.25" r="1.7" fill="#e4609e"/>
<circle cx="309.5" cy="74.9" r="0.75" fill="#f098c4"/>
<circle cx="301" cy="63.7" r="2.35" fill="#c04480"/>
<circle cx="300.75" cy="63.45" r="1.7" fill="#e4609e"/>
<circle cx="300.4" cy="63.1" r="0.75" fill="#f098c4"/>
<line x1="293.3" y1="93.4" x2="300.9" y2="95.7" stroke="#c04480" stroke-width="1.6" stroke-linecap="round"/>
<line x1="293.3" y1="93.4" x2="300.9" y2="95.7" stroke="#e4609e" stroke-width="1.152" stroke-linecap="round"/>
<line x1="300.9" y1="94.9" x2="308.6" y2="86.5" stroke="#c04480" stroke-width="1.6" stroke-linecap="round"/>
<line x1="300.9" y1="94.9" x2="308.6" y2="86.5" stroke="#e4609e" stroke-width="1.152" stroke-linecap="round"/>
<line x1="307.8" y1="75" x2="308.6" y2="84.2" stroke="#c04480" stroke-width="1.6" stroke-linecap="round"/>
<line x1="307.8" y1="75" x2="308.6" y2="84.2" stroke="#e4609e" stroke-width="1.152" stroke-linecap="round"/>
<line x1="306.3" y1="105.6" x2="312.4" y2="106.4" stroke="#f0a0c8" stroke-width="1.4" stroke-linecap="round"/>
<line x1="306.3" y1="105.6" x2="312.4" y2="106.4" stroke="#f0a0c8" stroke-width="1.008" stroke-linecap="round"/>
<circle cx="312.4" cy="106.4" r="1.6" fill="#f0a0c8"/>
<circle cx="300.5" cy="96" r="1.5" fill="#e4609e"/>
<line x1="317.4" y1="69" x2="306.2" y2="79" stroke="#c04480" stroke-width="1.8" stroke-linecap="round"/>
<line x1="317.4" y1="69" x2="306.2" y2="79" stroke="#e4609e" stroke-width="1.296" stroke-linecap="round"/>
<line x1="312" y1="82.6" x2="309.8" y2="91" stroke="#c04480" stroke-width="1.8" stroke-linecap="round"/>
<line x1="312" y1="82.6" x2="309.8" y2="91" stroke="#e4609e" stroke-width="1.296" stroke-linecap="round"/>
<line x1="303" y1="93" x2="311" y2="100" stroke="#c45a90" stroke-width="2.0" stroke-linecap="round"/>
<line x1="303" y1="93" x2="311" y2="100" stroke="#e77ab0" stroke-width="1.44" stroke-linecap="round"/>
<line x1="311" y1="100" x2="305" y2="106" stroke="#c45a90" stroke-width="2.0" stroke-linecap="round"/>
<line x1="311" y1="100" x2="305" y2="106" stroke="#e77ab0" stroke-width="1.44" stroke-linecap="round"/>
<circle cx="305.5" cy="106" r="1.9" fill="#eb8cbc"/>
<circle cx="311" cy="100" r="1.8" fill="#e4609e"/>
<line x1="234.5" y1="58.8" x2="227.5" y2="71.5" stroke="#33aeac" stroke-width="2.9" stroke-linecap="round"/>
<line x1="234.5" y1="58.8" x2="227.5" y2="71.5" stroke="#3ec3c0" stroke-width="2.088" stroke-linecap="round"/>
<line x1="227.5" y1="71.5" x2="220.65" y2="72.8" stroke="#33aeac" stroke-width="2.9" stroke-linecap="round"/>
<line x1="220.65" y1="72.8" x2="213.8" y2="74.1" stroke="#17218a" stroke-width="2.9" stroke-linecap="round"/>
<line x1="227.5" y1="71.5" x2="220.65" y2="72.8" stroke="#3ec3c0" stroke-width="2.088" stroke-linecap="round"/>
<line x1="220.65" y1="72.8" x2="213.8" y2="74.1" stroke="#2535b0" stroke-width="2.088" stroke-linecap="round"/>
<line x1="213.8" y1="74.1" x2="206.9" y2="87.2" stroke="#17218a" stroke-width="2.9" stroke-linecap="round"/>
<line x1="213.8" y1="74.1" x2="206.9" y2="87.2" stroke="#2535b0" stroke-width="2.088" stroke-linecap="round"/>
<line x1="206.9" y1="87.2" x2="212.65" y2="88.7" stroke="#17218a" stroke-width="2.9" stroke-linecap="round"/>
<line x1="212.65" y1="88.7" x2="218.4" y2="90.2" stroke="#33aeac" stroke-width="2.9" stroke-linecap="round"/>
<line x1="206.9" y1="87.2" x2="212.65" y2="88.7" stroke="#2535b0" stroke-width="2.088" stroke-linecap="round"/>
<line x1="212.65" y1="88.7" x2="218.4" y2="90.2" stroke="#3ec3c0" stroke-width="2.088" stroke-linecap="round"/>
<line x1="218.4" y1="90.2" x2="230.5" y2="82" stroke="#33aeac" stroke-width="2.9" stroke-linecap="round"/>
<line x1="218.4" y1="90.2" x2="230.5" y2="82" stroke="#3ec3c0" stroke-width="2.088" stroke-linecap="round"/>
<line x1="230.5" y1="82" x2="227.5" y2="71.5" stroke="#33aeac" stroke-width="2.9" stroke-linecap="round"/>
<line x1="230.5" y1="82" x2="227.5" y2="71.5" stroke="#3ec3c0" stroke-width="2.088" stroke-linecap="round"/>
<line x1="206.9" y1="87.2" x2="202.75" y2="89.5" stroke="#17218a" stroke-width="2.9" stroke-linecap="round"/>
<line x1="202.75" y1="89.5" x2="198.6" y2="91.8" stroke="#aaaaaa" stroke-width="2.9" stroke-linecap="round"/>
<line x1="206.9" y1="87.2" x2="202.75" y2="89.5" stroke="#2535b0" stroke-width="2.088" stroke-linecap="round"/>
<line x1="202.75" y1="89.5" x2="198.6" y2="91.8" stroke="#e8e8e8" stroke-width="2.088" stroke-linecap="round"/>
<line x1="218.4" y1="90.2" x2="216.95" y2="97.2" stroke="#33aeac" stroke-width="2.9" stroke-linecap="round"/>
<line x1="216.95" y1="97.2" x2="215.5" y2="104.2" stroke="#b02024" stroke-width="2.9" stroke-linecap="round"/>
<line x1="218.4" y1="90.2" x2="216.95" y2="97.2" stroke="#3ec3c0" stroke-width="2.088" stroke-linecap="round"/>
<line x1="216.95" y1="97.2" x2="215.5" y2="104.2" stroke="#e0383c" stroke-width="2.088" stroke-linecap="round"/>
<line x1="215.5" y1="104.2" x2="220.25" y2="107.75" stroke="#b02024" stroke-width="2.9" stroke-linecap="round"/>
<line x1="220.25" y1="107.75" x2="225" y2="111.3" stroke="#33aeac" stroke-width="2.9" stroke-linecap="round"/>
<line x1="215.5" y1="104.2" x2="220.25" y2="107.75" stroke="#e0383c" stroke-width="2.088" stroke-linecap="round"/>
<line x1="220.25" y1="107.75" x2="225" y2="111.3" stroke="#3ec3c0" stroke-width="2.088" stroke-linecap="round"/>
<line x1="225" y1="111.3" x2="232.15" y2="111.6" stroke="#33aeac" stroke-width="2.9" stroke-linecap="round"/>
<line x1="232.15" y1="111.6" x2="239.3" y2="111.9" stroke="#17218a" stroke-width="2.9" stroke-linecap="round"/>
<line x1="225" y1="111.3" x2="232.15" y2="111.6" stroke="#3ec3c0" stroke-width="2.088" stroke-linecap="round"/>
<line x1="232.15" y1="111.6" x2="239.3" y2="111.9" stroke="#2535b0" stroke-width="2.088" stroke-linecap="round"/>
<line x1="239.3" y1="111.9" x2="244.65" y2="116.05" stroke="#17218a" stroke-width="2.9" stroke-linecap="round"/>
<line x1="244.65" y1="116.05" x2="250" y2="120.2" stroke="#33aeac" stroke-width="2.9" stroke-linecap="round"/>
<line x1="239.3" y1="111.9" x2="244.65" y2="116.05" stroke="#2535b0" stroke-width="2.088" stroke-linecap="round"/>
<line x1="244.65" y1="116.05" x2="250" y2="120.2" stroke="#3ec3c0" stroke-width="2.088" stroke-linecap="round"/>
<line x1="250" y1="120.2" x2="248.5" y2="124.1" stroke="#33aeac" stroke-width="2.9" stroke-linecap="round"/>
<line x1="248.5" y1="124.1" x2="247" y2="128" stroke="#17218a" stroke-width="2.9" stroke-linecap="round"/>
<line x1="250" y1="120.2" x2="248.5" y2="124.1" stroke="#3ec3c0" stroke-width="2.088" stroke-linecap="round"/>
<line x1="248.5" y1="124.1" x2="247" y2="128" stroke="#2535b0" stroke-width="2.088" stroke-linecap="round"/>
<line x1="247" y1="128" x2="239.25" y2="127.1" stroke="#17218a" stroke-width="2.9" stroke-linecap="round"/>
<line x1="239.25" y1="127.1" x2="231.5" y2="126.2" stroke="#33aeac" stroke-width="2.9" stroke-linecap="round"/>
<line x1="247" y1="128" x2="239.25" y2="127.1" stroke="#2535b0" stroke-width="2.088" stroke-linecap="round"/>
<line x1="239.25" y1="127.1" x2="231.5" y2="126.2" stroke="#3ec3c0" stroke-width="2.088" stroke-linecap="round"/>
<line x1="231.5" y1="126.2" x2="219.6" y2="119" stroke="#33aeac" stroke-width="2.9" stroke-linecap="round"/>
<line x1="231.5" y1="126.2" x2="219.6" y2="119" stroke="#3ec3c0" stroke-width="2.088" stroke-linecap="round"/>
<line x1="219.6" y1="119" x2="225" y2="111.3" stroke="#33aeac" stroke-width="2.9" stroke-linecap="round"/>
<line x1="219.6" y1="119" x2="225" y2="111.3" stroke="#3ec3c0" stroke-width="2.088" stroke-linecap="round"/>
<line x1="219.6" y1="119" x2="212.2" y2="116.95" stroke="#33aeac" stroke-width="2.9" stroke-linecap="round"/>
<line x1="212.2" y1="116.95" x2="204.8" y2="114.9" stroke="#2f8a52" stroke-width="2.9" stroke-linecap="round"/>
<line x1="219.6" y1="119" x2="212.2" y2="116.95" stroke="#3ec3c0" stroke-width="2.088" stroke-linecap="round"/>
<line x1="212.2" y1="116.95" x2="204.8" y2="114.9" stroke="#4caf74" stroke-width="2.088" stroke-linecap="round"/>
<line x1="250" y1="120.2" x2="257.2" y2="120.25" stroke="#33aeac" stroke-width="2.9" stroke-linecap="round"/>
<line x1="257.2" y1="120.25" x2="264.4" y2="120.3" stroke="#17218a" stroke-width="2.9" stroke-linecap="round"/>
<line x1="250" y1="120.2" x2="257.2" y2="120.25" stroke="#3ec3c0" stroke-width="2.088" stroke-linecap="round"/>
<line x1="257.2" y1="120.25" x2="264.4" y2="120.3" stroke="#2535b0" stroke-width="2.088" stroke-linecap="round"/>
<line x1="264.4" y1="120.3" x2="266.95" y2="115.2" stroke="#17218a" stroke-width="2.9" stroke-linecap="round"/>
<line x1="266.95" y1="115.2" x2="269.5" y2="110.1" stroke="#33aeac" stroke-width="2.9" stroke-linecap="round"/>
<line x1="264.4" y1="120.3" x2="266.95" y2="115.2" stroke="#2535b0" stroke-width="2.088" stroke-linecap="round"/>
<line x1="266.95" y1="115.2" x2="269.5" y2="110.1" stroke="#3ec3c0" stroke-width="2.088" stroke-linecap="round"/>
<line x1="269.5" y1="110.1" x2="286.5" y2="111" stroke="#33aeac" stroke-width="2.9" stroke-linecap="round"/>
<line x1="269.5" y1="110.1" x2="286.5" y2="111" stroke="#3ec3c0" stroke-width="2.088" stroke-linecap="round"/>
<line x1="286.5" y1="111" x2="292" y2="117.3" stroke="#33aeac" stroke-width="2.9" stroke-linecap="round"/>
<line x1="286.5" y1="111" x2="292" y2="117.3" stroke="#3ec3c0" stroke-width="2.088" stroke-linecap="round"/>
<line x1="292" y1="117.3" x2="277.7" y2="125.4" stroke="#33aeac" stroke-width="2.9" stroke-linecap="round"/>
<line x1="292" y1="117.3" x2="277.7" y2="125.4" stroke="#3ec3c0" stroke-width="2.088" stroke-linecap="round"/>
<line x1="277.7" y1="125.4" x2="271.05" y2="122.85" stroke="#33aeac" stroke-width="2.9" stroke-linecap="round"/>
<line x1="271.05" y1="122.85" x2="264.4" y2="120.3" stroke="#17218a" stroke-width="2.9" stroke-linecap="round"/>
<line x1="277.7" y1="125.4" x2="271.05" y2="122.85" stroke="#3ec3c0" stroke-width="2.088" stroke-linecap="round"/>
<line x1="271.05" y1="122.85" x2="264.4" y2="120.3" stroke="#2535b0" stroke-width="2.088" stroke-linecap="round"/>
<line x1="286.5" y1="111" x2="292.5" y2="100.3" stroke="#33aeac" stroke-width="2.9" stroke-linecap="round"/>
<line x1="286.5" y1="111" x2="292.5" y2="100.3" stroke="#3ec3c0" stroke-width="2.088" stroke-linecap="round"/>
<line x1="292.5" y1="100.3" x2="302.5" y2="104.9" stroke="#33aeac" stroke-width="2.9" stroke-linecap="round"/>
<line x1="292.5" y1="100.3" x2="302.5" y2="104.9" stroke="#3ec3c0" stroke-width="2.088" stroke-linecap="round"/>
<line x1="302.5" y1="104.9" x2="308.6" y2="92.6" stroke="#33aeac" stroke-width="2.9" stroke-linecap="round"/>
<line x1="302.5" y1="104.9" x2="308.6" y2="92.6" stroke="#3ec3c0" stroke-width="2.088" stroke-linecap="round"/>
<line x1="308.6" y1="92.6" x2="307.5" y2="84.4" stroke="#33aeac" stroke-width="2.9" stroke-linecap="round"/>
<line x1="307.5" y1="84.4" x2="306.4" y2="76.2" stroke="#17218a" stroke-width="2.9" stroke-linecap="round"/>
<line x1="308.6" y1="92.6" x2="307.5" y2="84.4" stroke="#3ec3c0" stroke-width="2.088" stroke-linecap="round"/>
<line x1="307.5" y1="84.4" x2="306.4" y2="76.2" stroke="#2535b0" stroke-width="2.088" stroke-linecap="round"/>
<line x1="306.4" y1="76.2" x2="301.8" y2="73.2" stroke="#17218a" stroke-width="2.9" stroke-linecap="round"/>
<line x1="301.8" y1="73.2" x2="297.2" y2="70.2" stroke="#33aeac" stroke-width="2.9" stroke-linecap="round"/>
<line x1="306.4" y1="76.2" x2="301.8" y2="73.2" stroke="#2535b0" stroke-width="2.088" stroke-linecap="round"/>
<line x1="301.8" y1="73.2" x2="297.2" y2="70.2" stroke="#3ec3c0" stroke-width="2.088" stroke-linecap="round"/>
<line x1="297.2" y1="70.2" x2="289.5" y2="81.9" stroke="#33aeac" stroke-width="2.9" stroke-linecap="round"/>
<line x1="297.2" y1="70.2" x2="289.5" y2="81.9" stroke="#3ec3c0" stroke-width="2.088" stroke-linecap="round"/>
<line x1="289.5" y1="81.9" x2="292.5" y2="100.3" stroke="#33aeac" stroke-width="2.9" stroke-linecap="round"/>
<line x1="289.5" y1="81.9" x2="292.5" y2="100.3" stroke="#3ec3c0" stroke-width="2.088" stroke-linecap="round"/>
<line x1="234.5" y1="58.8" x2="238.7" y2="61.8" stroke="#3ec3c0" stroke-width="2.6" />
<polyline points="238.7,61.8 241.8,66.4 251.6,64.4" fill="none" stroke="#e0383c" stroke-width="2.2" stroke-linejoin="round" stroke-linecap="round" />
<line x1="229.9" y1="80.3" x2="232" y2="76" stroke="#3ec3c0" stroke-width="0.5" />
<circle cx="234.5" cy="58.8" r="2.7" fill="#33aeac"/>
<circle cx="234.3" cy="58.6" r="2.16" fill="#3ec3c0"/>
<circle cx="233.9" cy="58.2" r="0.86" fill="#7edcda"/>
<circle cx="213.8" cy="74.1" r="2.7" fill="#17218a"/>
<circle cx="213.6" cy="73.9" r="2.16" fill="#2535b0"/>
<circle cx="213.2" cy="73.5" r="0.86" fill="#4a5ad0"/>
<circle cx="227.5" cy="71.5" r="2.7" fill="#33aeac"/>
<circle cx="227.3" cy="71.3" r="2.16" fill="#3ec3c0"/>
<circle cx="226.9" cy="70.9" r="0.86" fill="#7edcda"/>
<circle cx="230.5" cy="82" r="2.7" fill="#33aeac"/>
<circle cx="230.3" cy="81.8" r="2.16" fill="#3ec3c0"/>
<circle cx="229.9" cy="81.4" r="0.86" fill="#7edcda"/>
<circle cx="218.4" cy="90.2" r="2.7" fill="#33aeac"/>
<circle cx="218.2" cy="90" r="2.16" fill="#3ec3c0"/>
<circle cx="217.8" cy="89.6" r="0.86" fill="#7edcda"/>
<circle cx="206.9" cy="87.2" r="2.7" fill="#17218a"/>
<circle cx="206.7" cy="87" r="2.16" fill="#2535b0"/>
<circle cx="206.3" cy="86.6" r="0.86" fill="#4a5ad0"/>
<circle cx="198.6" cy="91.8" r="1.9" fill="#aaaaaa"/>
<circle cx="198.4" cy="91.6" r="1.52" fill="#e8e8e8"/>
<circle cx="198" cy="91.2" r="0.61" fill="#ffffff"/>
<circle cx="215.5" cy="104.2" r="2.7" fill="#b02024"/>
<circle cx="215.3" cy="104" r="2.16" fill="#e0383c"/>
<circle cx="214.9" cy="103.6" r="0.86" fill="#f07070"/>
<circle cx="225" cy="111.3" r="2.7" fill="#33aeac"/>
<circle cx="224.8" cy="111.1" r="2.16" fill="#3ec3c0"/>
<circle cx="224.4" cy="110.7" r="0.86" fill="#7edcda"/>
<circle cx="239.3" cy="111.9" r="2.7" fill="#17218a"/>
<circle cx="239.1" cy="111.7" r="2.16" fill="#2535b0"/>
<circle cx="238.7" cy="111.3" r="0.86" fill="#4a5ad0"/>
<circle cx="250" cy="120.2" r="2.7" fill="#33aeac"/>
<circle cx="249.8" cy="120" r="2.16" fill="#3ec3c0"/>
<circle cx="249.4" cy="119.6" r="0.86" fill="#7edcda"/>
<circle cx="247" cy="128" r="2.7" fill="#17218a"/>
<circle cx="246.8" cy="127.8" r="2.16" fill="#2535b0"/>
<circle cx="246.4" cy="127.4" r="0.86" fill="#4a5ad0"/>
<circle cx="231.5" cy="126.2" r="2.7" fill="#33aeac"/>
<circle cx="231.3" cy="126" r="2.16" fill="#3ec3c0"/>
<circle cx="230.9" cy="125.6" r="0.86" fill="#7edcda"/>
<circle cx="219.6" cy="119" r="2.7" fill="#33aeac"/>
<circle cx="219.4" cy="118.8" r="2.16" fill="#3ec3c0"/>
<circle cx="219" cy="118.4" r="0.86" fill="#7edcda"/>
<circle cx="204.8" cy="114.9" r="2.9" fill="#2f8a52"/>
<circle cx="204.6" cy="114.7" r="2.32" fill="#4caf74"/>
<circle cx="204.2" cy="114.3" r="0.93" fill="#80d0a0"/>
<circle cx="264.4" cy="120.3" r="2.7" fill="#17218a"/>
<circle cx="264.2" cy="120.1" r="2.16" fill="#2535b0"/>
<circle cx="263.8" cy="119.7" r="0.86" fill="#4a5ad0"/>
<circle cx="269.5" cy="110.1" r="2.7" fill="#33aeac"/>
<circle cx="269.3" cy="109.9" r="2.16" fill="#3ec3c0"/>
<circle cx="268.9" cy="109.5" r="0.86" fill="#7edcda"/>
<circle cx="286.5" cy="111" r="2.7" fill="#33aeac"/>
<circle cx="286.3" cy="110.8" r="2.16" fill="#3ec3c0"/>
<circle cx="285.9" cy="110.4" r="0.86" fill="#7edcda"/>
<circle cx="292" cy="117.3" r="2.7" fill="#33aeac"/>
<circle cx="291.8" cy="117.1" r="2.16" fill="#3ec3c0"/>
<circle cx="291.4" cy="116.7" r="0.86" fill="#7edcda"/>
<circle cx="277.7" cy="125.4" r="2.7" fill="#33aeac"/>
<circle cx="277.5" cy="125.2" r="2.16" fill="#3ec3c0"/>
<circle cx="277.1" cy="124.8" r="0.86" fill="#7edcda"/>
<circle cx="292.5" cy="100.3" r="2.7" fill="#33aeac"/>
<circle cx="292.3" cy="100.1" r="2.16" fill="#3ec3c0"/>
<circle cx="291.9" cy="99.7" r="0.86" fill="#7edcda"/>
<circle cx="302.5" cy="104.9" r="2.7" fill="#33aeac"/>
<circle cx="302.3" cy="104.7" r="2.16" fill="#3ec3c0"/>
<circle cx="301.9" cy="104.3" r="0.86" fill="#7edcda"/>
<circle cx="308.6" cy="92.6" r="2.7" fill="#33aeac"/>
<circle cx="308.4" cy="92.4" r="2.16" fill="#3ec3c0"/>
<circle cx="308" cy="92" r="0.86" fill="#7edcda"/>
<circle cx="306.4" cy="76.2" r="2.7" fill="#17218a"/>
<circle cx="306.2" cy="76" r="2.16" fill="#2535b0"/>
<circle cx="305.8" cy="75.6" r="0.86" fill="#4a5ad0"/>
<circle cx="297.2" cy="70.2" r="2.7" fill="#33aeac"/>
<circle cx="297" cy="70" r="2.16" fill="#3ec3c0"/>
<circle cx="296.6" cy="69.6" r="0.86" fill="#7edcda"/>
<circle cx="289.5" cy="81.9" r="2.7" fill="#33aeac"/>
<circle cx="289.3" cy="81.7" r="2.16" fill="#3ec3c0"/>
<circle cx="288.9" cy="81.3" r="0.86" fill="#7edcda"/>
<text transform="translate(181.8 25.6) scale(1 1.09)" font-size="7.5" textLength="24.6" lengthAdjust="spacingAndGlyphs" fill="#333" >Gln394</text>
<text transform="translate(274.6 32.1) scale(1 1.09)" font-size="7.5" textLength="23.6" lengthAdjust="spacingAndGlyphs" fill="#333" >Tyr282</text>
<text transform="translate(324.8 19.4) scale(1 1.09)" font-size="7.5" textLength="26.2" lengthAdjust="spacingAndGlyphs" fill="#333" >Phe278</text>
<text transform="translate(284.2 44.3) scale(1 1.09)" font-size="7.5" textLength="26" lengthAdjust="spacingAndGlyphs" fill="#333" >Phe428</text>
<text transform="translate(260.8 87) scale(1 1.09)" font-size="7.5" textLength="19.6" lengthAdjust="spacingAndGlyphs" fill="#333" >Pro31</text>
<text transform="translate(313.8 88.5) scale(1 1.09)" font-size="7.5" textLength="25.4" lengthAdjust="spacingAndGlyphs" fill="#333" >Leu283</text>
<text transform="translate(318.3 114.4) scale(1 1.09)" font-size="7.5" textLength="20.9" lengthAdjust="spacingAndGlyphs" fill="#333" >Ile426</text>
<text transform="translate(173.3 117.7) scale(1 1.09)" font-size="7.5" textLength="23.9" lengthAdjust="spacingAndGlyphs" fill="#333" >Thr393</text>
<text transform="translate(390.3 8) scale(1 0.95)" font-size="11" font-weight="bold" stroke="#231f20" stroke-width="0.25">c</text>
<line x1="420.2" y1="21.58" x2="420.2" y2="107.5" stroke="#6a6a6a" stroke-width="0.75" />
<line x1="418" y1="107.5" x2="420.2" y2="107.5" stroke="#6a6a6a" stroke-width="0.75" />
<text transform="translate(414.3 110.5) scale(1 1.09)" font-size="7.8" text-anchor="end" >0</text>
<line x1="418" y1="95.22" x2="420.2" y2="95.22" stroke="#6a6a6a" stroke-width="0.75" />
<text transform="translate(414.3 98.22) scale(1 1.09)" font-size="7.8" text-anchor="end" >5</text>
<line x1="418" y1="82.95" x2="420.2" y2="82.95" stroke="#6a6a6a" stroke-width="0.75" />
<text transform="translate(414.3 85.95) scale(1 1.09)" font-size="7.8" text-anchor="end" >10</text>
<line x1="418" y1="70.67" x2="420.2" y2="70.67" stroke="#6a6a6a" stroke-width="0.75" />
<text transform="translate(414.3 73.67) scale(1 1.09)" font-size="7.8" text-anchor="end" >15</text>
<line x1="418" y1="58.4" x2="420.2" y2="58.4" stroke="#6a6a6a" stroke-width="0.75" />
<text transform="translate(414.3 61.4) scale(1 1.09)" font-size="7.8" text-anchor="end" >20</text>
<line x1="418" y1="46.12" x2="420.2" y2="46.12" stroke="#6a6a6a" stroke-width="0.75" />
<text transform="translate(414.3 49.12) scale(1 1.09)" font-size="7.8" text-anchor="end" >25</text>
<line x1="418" y1="33.85" x2="420.2" y2="33.85" stroke="#6a6a6a" stroke-width="0.75" />
<text transform="translate(414.3 36.85) scale(1 1.09)" font-size="7.8" text-anchor="end" >30</text>
<line x1="418" y1="21.58" x2="420.2" y2="21.58" stroke="#6a6a6a" stroke-width="0.75" />
<text transform="translate(414.3 24.58) scale(1 1.09)" font-size="7.8" text-anchor="end" >35</text>
<line x1="419" y1="101.36" x2="420.2" y2="101.36" stroke="#6a6a6a" stroke-width="0.75" />
<line x1="419" y1="89.09" x2="420.2" y2="89.09" stroke="#6a6a6a" stroke-width="0.75" />
<line x1="419" y1="76.81" x2="420.2" y2="76.81" stroke="#6a6a6a" stroke-width="0.75" />
<line x1="419" y1="64.54" x2="420.2" y2="64.54" stroke="#6a6a6a" stroke-width="0.75" />
<line x1="419" y1="52.26" x2="420.2" y2="52.26" stroke="#6a6a6a" stroke-width="0.75" />
<line x1="419" y1="39.99" x2="420.2" y2="39.99" stroke="#6a6a6a" stroke-width="0.75" />
<line x1="419" y1="27.71" x2="420.2" y2="27.71" stroke="#6a6a6a" stroke-width="0.75" />
<line x1="420.2" y1="107.6" x2="518.8" y2="107.6" stroke="#6a6a6a" stroke-width="0.75" />
<line x1="428.9" y1="107.6" x2="428.9" y2="110.2" stroke="#6a6a6a" stroke-width="0.75" />
<text transform="translate(428.9 118.7) scale(1 1.09)" font-size="7.4" text-anchor="middle" >−</text>
<line x1="441.5" y1="107.6" x2="441.5" y2="110.2" stroke="#6a6a6a" stroke-width="0.75" />
<text transform="translate(441.5 118.7) scale(1 1.09)" font-size="7.4" text-anchor="middle" >+</text>
<line x1="462.6" y1="107.6" x2="462.6" y2="110.2" stroke="#6a6a6a" stroke-width="0.75" />
<text transform="translate(462.6 118.7) scale(1 1.09)" font-size="7.4" text-anchor="middle" >−</text>
<line x1="475.3" y1="107.6" x2="475.3" y2="110.2" stroke="#6a6a6a" stroke-width="0.75" />
<text transform="translate(475.3 118.7) scale(1 1.09)" font-size="7.4" text-anchor="middle" >+</text>
<line x1="496.7" y1="107.6" x2="496.7" y2="110.2" stroke="#6a6a6a" stroke-width="0.75" />
<text transform="translate(496.7 118.7) scale(1 1.09)" font-size="7.4" text-anchor="middle" >−</text>
<line x1="509.4" y1="107.6" x2="509.4" y2="110.2" stroke="#6a6a6a" stroke-width="0.75" />
<text transform="translate(509.4 118.7) scale(1 1.09)" font-size="7.4" text-anchor="middle" >+</text>
<text transform="translate(469.5 131.3) scale(1 1.09)" font-size="8.0" text-anchor="middle" textLength="35" lengthAdjust="spacingAndGlyphs" >JNJ-6640</text>
<text transform="translate(398.9 63.9) scale(1 1.09) rotate(-90)" font-size="7.4" text-anchor="middle" textLength="90.09" lengthAdjust="spacingAndGlyphs" >Nitrogen atoms labelled (%)</text>
<rect x="425.1" y="61.59" width="8.4" height="45.91" fill="#231f20"/>
<rect x="438" y="100.87" width="7.8" height="6.63" fill="#fff" stroke="#231f20" stroke-width="0.6"/>
<rect x="459" y="56.68" width="8.4" height="50.82" fill="#231f20"/>
<rect x="471.6" y="91.3" width="7.8" height="16.2" fill="#fff" stroke="#231f20" stroke-width="0.6"/>
<rect x="492.7" y="49.81" width="8.4" height="57.69" fill="#231f20"/>
<rect x="505.6" y="46.12" width="7.8" height="61.38" fill="#fff" stroke="#231f20" stroke-width="0.6"/>
<line x1="441.8" y1="100.87" x2="441.8" y2="93.51" stroke="#231f20" stroke-width="0.6" />
<line x1="440.2" y1="93.51" x2="443.4" y2="93.51" stroke="#231f20" stroke-width="0.6" />
<line x1="475.5" y1="91.3" x2="475.5" y2="86.88" stroke="#231f20" stroke-width="0.6" />
<line x1="473.9" y1="86.88" x2="477.1" y2="86.88" stroke="#231f20" stroke-width="0.6" />
<circle cx="428.1" cy="62.82" r="1.5" fill="#fff" stroke="#231f20" stroke-width="0.55"/>
<circle cx="431.1" cy="57.42" r="1.6" fill="#231f20" stroke="#fff" stroke-width="0.4"/>
<circle cx="430.3" cy="61.1" r="1.5" fill="#fff" stroke="#231f20" stroke-width="0.55"/>
<circle cx="428.9" cy="64.78" r="1.5" fill="#fff" stroke="#231f20" stroke-width="0.55"/>
<circle cx="428.5" cy="68.47" r="1.5" fill="#fff" stroke="#231f20" stroke-width="0.55"/>
<circle cx="461.7" cy="51.28" r="1.5" fill="#fff" stroke="#231f20" stroke-width="0.55"/>
<circle cx="464.7" cy="51.03" r="1.6" fill="#231f20" stroke="#fff" stroke-width="0.4"/>
<circle cx="462" cy="55.7" r="1.5" fill="#fff" stroke="#231f20" stroke-width="0.55"/>
<circle cx="464.5" cy="54.72" r="1.5" fill="#fff" stroke="#231f20" stroke-width="0.55"/>
<circle cx="463.2" cy="58.15" r="1.5" fill="#fff" stroke="#231f20" stroke-width="0.55"/>
<circle cx="495.4" cy="48.58" r="1.5" fill="#fff" stroke="#231f20" stroke-width="0.55"/>
<circle cx="498.1" cy="47.6" r="1.6" fill="#231f20" stroke="#fff" stroke-width="0.4"/>
<circle cx="498.9" cy="49.56" r="1.5" fill="#fff" stroke="#231f20" stroke-width="0.55"/>
<circle cx="495.7" cy="51.28" r="1.5" fill="#fff" stroke="#231f20" stroke-width="0.55"/>
<circle cx="497.1" cy="50.3" r="1.5" fill="#fff" stroke="#231f20" stroke-width="0.55"/>
<circle cx="439.8" cy="106.03" r="1.6" fill="#fff" stroke="#231f20" stroke-width="0.5"/>
<circle cx="443.6" cy="105.29" r="1.6" fill="#fff" stroke="#231f20" stroke-width="0.5"/>
<circle cx="440.8" cy="102.59" r="1.6" fill="#fff" stroke="#231f20" stroke-width="0.5"/>
<circle cx="444" cy="101.61" r="1.6" fill="#fff" stroke="#231f20" stroke-width="0.5"/>
<circle cx="442" cy="104.31" r="1.6" fill="#fff" stroke="#231f20" stroke-width="0.5"/>
<circle cx="440.4" cy="88.35" r="1.6" fill="#fff" stroke="#231f20" stroke-width="0.5"/>
<circle cx="473.7" cy="95.22" r="1.6" fill="#fff" stroke="#231f20" stroke-width="0.5"/>
<circle cx="477.1" cy="91.79" r="1.6" fill="#fff" stroke="#231f20" stroke-width="0.5"/>
<circle cx="474.3" cy="90.81" r="1.6" fill="#fff" stroke="#231f20" stroke-width="0.5"/>
<circle cx="476.3" cy="88.11" r="1.6" fill="#fff" stroke="#231f20" stroke-width="0.5"/>
<circle cx="473.9" cy="84.42" r="1.6" fill="#fff" stroke="#231f20" stroke-width="0.5"/>
<circle cx="508.1" cy="45.39" r="1.6" fill="#fff" stroke="#231f20" stroke-width="0.5"/>
<circle cx="510.8" cy="44.9" r="1.6" fill="#fff" stroke="#231f20" stroke-width="0.5"/>
<circle cx="509.6" cy="46.12" r="1.6" fill="#fff" stroke="#231f20" stroke-width="0.5"/>
<circle cx="511.6" cy="45.88" r="1.6" fill="#fff" stroke="#231f20" stroke-width="0.5"/>
<circle cx="507.4" cy="46.12" r="1.6" fill="#fff" stroke="#231f20" stroke-width="0.5"/>
<polyline points="429.2,51.6 429.2,34.6 441.5,34.6 441.5,81" fill="none" stroke="#8a8a8a" stroke-width="0.8" stroke-linejoin="round" stroke-linecap="round" />
<polyline points="463.2,44.6 463.2,34.6 475.6,34.6 475.6,77.3" fill="none" stroke="#8a8a8a" stroke-width="0.8" stroke-linejoin="round" stroke-linecap="round" />
<polyline points="496.5,41.4 496.5,34.6 509.2,34.6 509.2,39" fill="none" stroke="#8a8a8a" stroke-width="0.8" stroke-linejoin="round" stroke-linecap="round" />
<text transform="translate(435.2 15.5) scale(1 1.09)" font-size="7.4" text-anchor="middle" textLength="28.5" lengthAdjust="spacingAndGlyphs" >Adenine</text>
<text transform="translate(469.2 15.5) scale(1 1.09)" font-size="7.4" text-anchor="middle" textLength="16.7" lengthAdjust="spacingAndGlyphs" >AMP</text>
<text transform="translate(502.9 15.5) scale(1 1.09)" font-size="7.4" text-anchor="middle" textLength="36.2" lengthAdjust="spacingAndGlyphs" >Glutamate</text>
<text transform="translate(421.6 28.1) scale(1 1.09)" font-size="6.8" textLength="32" lengthAdjust="spacingAndGlyphs" ><tspan font-style="italic">P</tspan> = 0.0001</text>
<text transform="translate(455 33.2) scale(1 1.09)" font-size="6.8" textLength="31" lengthAdjust="spacingAndGlyphs" ><tspan font-style="italic">P</tspan> &lt; 0.0001</text>
<text transform="translate(488.6 27.6) scale(1 1.09)" font-size="6.8" textLength="31.7" lengthAdjust="spacingAndGlyphs" ><tspan font-style="italic">P</tspan> = 0.0385</text>
<text transform="translate(543.6 8) scale(1 0.95)" font-size="11" font-weight="bold" stroke="#231f20" stroke-width="0.25">d</text>
<line x1="572.7" y1="10.18" x2="572.7" y2="107.3" stroke="#6a6a6a" stroke-width="0.75" />
<line x1="570.5" y1="107.3" x2="572.7" y2="107.3" stroke="#6a6a6a" stroke-width="0.75" />
<text transform="translate(566.9 110.3) scale(1 1.09)" font-size="7.8" text-anchor="end" >1</text>
<line x1="570.5" y1="95.16" x2="572.7" y2="95.16" stroke="#6a6a6a" stroke-width="0.75" />
<text transform="translate(566.9 98.16) scale(1 1.09)" font-size="7.8" text-anchor="end" >2</text>
<line x1="570.5" y1="83.02" x2="572.7" y2="83.02" stroke="#6a6a6a" stroke-width="0.75" />
<text transform="translate(566.9 86.02) scale(1 1.09)" font-size="7.8" text-anchor="end" >3</text>
<line x1="570.5" y1="70.88" x2="572.7" y2="70.88" stroke="#6a6a6a" stroke-width="0.75" />
<text transform="translate(566.9 73.88) scale(1 1.09)" font-size="7.8" text-anchor="end" >4</text>
<line x1="570.5" y1="58.74" x2="572.7" y2="58.74" stroke="#6a6a6a" stroke-width="0.75" />
<text transform="translate(566.9 61.74) scale(1 1.09)" font-size="7.8" text-anchor="end" >5</text>
<line x1="570.5" y1="46.6" x2="572.7" y2="46.6" stroke="#6a6a6a" stroke-width="0.75" />
<text transform="translate(566.9 49.6) scale(1 1.09)" font-size="7.8" text-anchor="end" >6</text>
<line x1="570.5" y1="34.46" x2="572.7" y2="34.46" stroke="#6a6a6a" stroke-width="0.75" />
<text transform="translate(566.9 37.46) scale(1 1.09)" font-size="7.8" text-anchor="end" >7</text>
<line x1="570.5" y1="22.32" x2="572.7" y2="22.32" stroke="#6a6a6a" stroke-width="0.75" />
<text transform="translate(566.9 25.32) scale(1 1.09)" font-size="7.8" text-anchor="end" >8</text>
<line x1="570.5" y1="10.18" x2="572.7" y2="10.18" stroke="#6a6a6a" stroke-width="0.75" />
<text transform="translate(566.9 13.18) scale(1 1.09)" font-size="7.8" text-anchor="end" >9</text>
<line x1="572.7" y1="107.3" x2="670.5" y2="107.3" stroke="#6a6a6a" stroke-width="0.75" />
<line x1="573.6" y1="107.3" x2="573.6" y2="110" stroke="#6a6a6a" stroke-width="0.75" />
<text transform="translate(573.6 119.5) scale(1 1.09)" font-size="7.4" text-anchor="middle" >0</text>
<line x1="605.94" y1="107.3" x2="605.94" y2="110" stroke="#6a6a6a" stroke-width="0.75" />
<text transform="translate(605.94 119.5) scale(1 1.09)" font-size="7.4" text-anchor="middle" >3</text>
<line x1="638.28" y1="107.3" x2="638.28" y2="110" stroke="#6a6a6a" stroke-width="0.75" />
<text transform="translate(638.28 119.5) scale(1 1.09)" font-size="7.4" text-anchor="middle" >6</text>
<line x1="670.62" y1="107.3" x2="670.62" y2="110" stroke="#6a6a6a" stroke-width="0.75" />
<text transform="translate(670.62 119.5) scale(1 1.09)" font-size="7.4" text-anchor="middle" >9</text>
<text transform="translate(621.7 131.6) scale(1 1.09)" font-size="7.6" text-anchor="middle" textLength="40.2" lengthAdjust="spacingAndGlyphs" >Time (days)</text>
<text transform="translate(555 58.8) scale(1 1.09) rotate(-90)" font-size="7.4" text-anchor="middle" textLength="77.61" lengthAdjust="spacingAndGlyphs" >Growth (log<tspan font-size="5.2" dy="1.8">10</tspan><tspan dy="-1.8"> CFU ml</tspan><tspan font-size="5.2" dy="-2.6">−1</tspan><tspan dy="2.6">)</tspan></text>
<line x1="573.5" y1="50.5" x2="670.5" y2="50.5" stroke="#9a9a9a" stroke-width="0.6" stroke-dasharray="1.6 1.2"/>
<line x1="573.5" y1="95.2" x2="670.5" y2="95.2" stroke="#9a9a9a" stroke-width="0.6" stroke-dasharray="1.6 1.2"/>
<text transform="translate(674.6 57.8) scale(1 1.09)" font-size="7.9" text-anchor="end" textLength="32.4" lengthAdjust="spacingAndGlyphs" >Inoculum</text>
<text transform="translate(575 92.9) scale(1 1.09)" font-size="7.4" textLength="13.8" lengthAdjust="spacingAndGlyphs" >LoD</text>
<polyline points="573.6,48.79 638.28,42.59 670.62,34.7" fill="none" stroke="#231f20" stroke-width="0.6" stroke-linejoin="round" stroke-linecap="round" />
<polyline points="573.6,49.27 638.28,43.93 670.62,39.32" fill="none" stroke="#3fae49" stroke-width="0.6" stroke-linejoin="round" stroke-linecap="round" />
<polyline points="573.6,47.81 638.28,67.6 670.62,70.27" fill="none" stroke="#ea6a28" stroke-width="0.6" stroke-linejoin="round" stroke-linecap="round" />
<polyline points="573.6,47.21 638.28,70.88 670.62,95.16" fill="none" stroke="#e2202a" stroke-width="0.6" stroke-linejoin="round" stroke-linecap="round" />
<polyline points="573.6,51.21 638.28,84.72 670.62,95.16" fill="none" stroke="#231f20" stroke-width="0.6" stroke-linejoin="round" stroke-linecap="round" />
<line x1="638.28" y1="67.6" x2="638.28" y2="62.5" stroke="#231f20" stroke-width="0.6" />
<line x1="636.78" y1="62.5" x2="639.78" y2="62.5" stroke="#231f20" stroke-width="0.6" />
<line x1="638.28" y1="84.72" x2="638.28" y2="81.08" stroke="#231f20" stroke-width="0.6" />
<line x1="636.78" y1="81.08" x2="639.78" y2="81.08" stroke="#231f20" stroke-width="0.6" />
<line x1="670.62" y1="70.27" x2="670.62" y2="67.24" stroke="#231f20" stroke-width="0.6" />
<line x1="669.12" y1="67.24" x2="672.12" y2="67.24" stroke="#231f20" stroke-width="0.6" />
<line x1="670.62" y1="35.07" x2="670.62" y2="32.64" stroke="#231f20" stroke-width="0.6" />
<line x1="669.12" y1="32.64" x2="672.12" y2="32.64" stroke="#231f20" stroke-width="0.6" />
<line x1="638.28" y1="70.88" x2="638.28" y2="67.24" stroke="#231f20" stroke-width="0.6" />
<line x1="636.78" y1="67.24" x2="639.78" y2="67.24" stroke="#231f20" stroke-width="0.6" />
<circle cx="573.6" cy="51.21" r="2" fill="#231f20" stroke="#231f20" stroke-width="0.5"/>
<circle cx="638.28" cy="84.72" r="2" fill="#231f20" stroke="#231f20" stroke-width="0.5"/>
<circle cx="670.62" cy="95.16" r="2" fill="#231f20" stroke="#231f20" stroke-width="0.5"/>
<circle cx="573.6" cy="49.27" r="2" fill="#3fae49" stroke="#231f20" stroke-width="0.5"/>
<circle cx="638.28" cy="43.93" r="2" fill="#3fae49" stroke="#231f20" stroke-width="0.5"/>
<circle cx="670.62" cy="39.32" r="2" fill="#3fae49" stroke="#231f20" stroke-width="0.5"/>
<circle cx="573.6" cy="48.79" r="2" fill="#fff" stroke="#231f20" stroke-width="0.5"/>
<circle cx="638.28" cy="42.59" r="2" fill="#fff" stroke="#231f20" stroke-width="0.5"/>
<circle cx="670.62" cy="34.7" r="2" fill="#fff" stroke="#231f20" stroke-width="0.5"/>
<circle cx="573.6" cy="47.81" r="2" fill="#ea6a28" stroke="#231f20" stroke-width="0.5"/>
<circle cx="638.28" cy="67.6" r="2" fill="#ea6a28" stroke="#231f20" stroke-width="0.5"/>
<circle cx="670.62" cy="70.27" r="2" fill="#ea6a28" stroke="#231f20" stroke-width="0.5"/>
<circle cx="573.6" cy="47.21" r="2" fill="#e2202a" stroke="#231f20" stroke-width="0.5"/>
<circle cx="638.28" cy="70.88" r="2" fill="#e2202a" stroke="#231f20" stroke-width="0.5"/>
<circle cx="670.62" cy="95.16" r="2" fill="#e2202a" stroke="#231f20" stroke-width="0.5"/>
<circle cx="577.6" cy="12" r="2" fill="#3fae49" stroke="#231f20" stroke-width="0.4"/>
<text transform="translate(583.5 14.6) scale(1 1.09)" font-size="7.9" ><tspan font-style="italic">purF</tspan> low</text>
<circle cx="577.6" cy="19.5" r="2" fill="#ea6a28" stroke="#231f20" stroke-width="0.4"/>
<text transform="translate(583.5 22.1) scale(1 1.09)" font-size="7.9" ><tspan font-style="italic">purF</tspan> medium</text>
<circle cx="577.6" cy="27" r="2" fill="#e2202a" stroke="#231f20" stroke-width="0.4"/>
<text transform="translate(583.5 29.6) scale(1 1.09)" font-size="7.9" ><tspan font-style="italic">purF</tspan> high</text>
<circle cx="641" cy="11" r="1.9" fill="#fff" stroke="#231f20" stroke-width="0.6"/>
<text transform="translate(646.4 13.6) scale(1 1.09)" font-size="7.4" >Control</text>
<circle cx="641" cy="18.3" r="2" fill="#231f20"/>
<text transform="translate(646.4 20.9) scale(1 1.09)" font-size="7.9" ><tspan font-style="italic">atpE</tspan> high</text>
<text transform="translate(-0.3 152.2) scale(1 0.95)" font-size="11" font-weight="bold" stroke="#231f20" stroke-width="0.25">e</text>
<line x1="33" y1="162.2" x2="33" y2="247.5" stroke="#6a6a6a" stroke-width="0.75" />
<line x1="30.8" y1="240.9" x2="33" y2="240.9" stroke="#6a6a6a" stroke-width="0.75" />
<text transform="translate(27.1 243.9) scale(1 1.09)" font-size="7.8" text-anchor="end" >0</text>
<line x1="30.8" y1="227.78" x2="33" y2="227.78" stroke="#6a6a6a" stroke-width="0.75" />
<text transform="translate(27.1 230.78) scale(1 1.09)" font-size="7.8" text-anchor="end" >20</text>
<line x1="30.8" y1="214.67" x2="33" y2="214.67" stroke="#6a6a6a" stroke-width="0.75" />
<text transform="translate(27.1 217.67) scale(1 1.09)" font-size="7.8" text-anchor="end" >40</text>
<line x1="30.8" y1="201.55" x2="33" y2="201.55" stroke="#6a6a6a" stroke-width="0.75" />
<text transform="translate(27.1 204.55) scale(1 1.09)" font-size="7.8" text-anchor="end" >60</text>
<line x1="30.8" y1="188.44" x2="33" y2="188.44" stroke="#6a6a6a" stroke-width="0.75" />
<text transform="translate(27.1 191.44) scale(1 1.09)" font-size="7.8" text-anchor="end" >80</text>
<line x1="30.8" y1="175.32" x2="33" y2="175.32" stroke="#6a6a6a" stroke-width="0.75" />
<text transform="translate(27.1 178.32) scale(1 1.09)" font-size="7.8" text-anchor="end" >100</text>
<line x1="30.8" y1="162.2" x2="33" y2="162.2" stroke="#6a6a6a" stroke-width="0.75" />
<text transform="translate(27.1 165.2) scale(1 1.09)" font-size="7.8" text-anchor="end" >120</text>
<line x1="33" y1="247.5" x2="131.2" y2="247.5" stroke="#6a6a6a" stroke-width="0.75" />
<line x1="33.3" y1="247.5" x2="33.3" y2="250.4" stroke="#6a6a6a" stroke-width="0.75" />
<line x1="49.57" y1="247.5" x2="49.57" y2="250.4" stroke="#6a6a6a" stroke-width="0.75" />
<line x1="65.84" y1="247.5" x2="65.84" y2="250.4" stroke="#6a6a6a" stroke-width="0.75" />
<line x1="82.11" y1="247.5" x2="82.11" y2="250.4" stroke="#6a6a6a" stroke-width="0.75" />
<line x1="98.38" y1="247.5" x2="98.38" y2="250.4" stroke="#6a6a6a" stroke-width="0.75" />
<line x1="114.65" y1="247.5" x2="114.65" y2="250.4" stroke="#6a6a6a" stroke-width="0.75" />
<line x1="130.92" y1="247.5" x2="130.92" y2="250.4" stroke="#6a6a6a" stroke-width="0.75" />
<text transform="translate(36.5 257.5) rotate(-44)" font-size="7.696000000000001" text-anchor="end" >0.001</text>
<text transform="translate(52.77 257.5) rotate(-44)" font-size="7.696000000000001" text-anchor="end" >0.01</text>
<text transform="translate(69.04 257.5) rotate(-44)" font-size="7.696000000000001" text-anchor="end" >0.1</text>
<text transform="translate(85.31 257.5) rotate(-44)" font-size="7.696000000000001" text-anchor="end" >1</text>
<text transform="translate(101.58 257.5) rotate(-44)" font-size="7.696000000000001" text-anchor="end" >10</text>
<text transform="translate(117.85 257.5) rotate(-44)" font-size="7.696000000000001" text-anchor="end" >100</text>
<text transform="translate(134.12 257.5) rotate(-44)" font-size="7.696000000000001" text-anchor="end" >1,000</text>
<text transform="translate(81.8 283.2) scale(1 1.09)" font-size="7.6" text-anchor="middle" textLength="52" lengthAdjust="spacingAndGlyphs" >JNJ-6640 (nM)</text>
<text transform="translate(7.6 207.4) scale(1 1.09) rotate(-90)" font-size="7.4" text-anchor="middle" textLength="50.83" lengthAdjust="spacingAndGlyphs" >Cell growth (%)</text>
<polyline points="42.4,175.19 43.44,175.19 44.48,175.19 45.52,175.19 46.55,175.19 47.59,175.2 48.63,175.2 49.67,175.2 50.71,175.2 51.75,175.2 52.79,175.21 53.83,175.21 54.86,175.22 55.9,175.22 56.94,175.23 57.98,175.24 59.02,175.25 60.06,175.27 61.1,175.28 62.14,175.3 63.17,175.33 64.21,175.36 65.25,175.4 66.29,175.45 67.33,175.51 68.37,175.58 69.41,175.67 70.45,175.77 71.48,175.9 72.52,176.06 73.56,176.26 74.6,176.5 75.64,176.78 76.68,177.13 77.72,177.56 78.76,178.07 79.79,178.68 80.83,179.42 81.87,180.3 82.91,181.35 83.95,182.58 84.99,184.02 86.03,185.69 87.07,187.61 88.1,189.78 89.14,192.21 90.18,194.88 91.22,197.78 92.26,200.86 93.3,204.07 94.34,207.35 95.38,210.64 96.41,213.86 97.45,216.96 98.49,219.88 99.53,222.59 100.57,225.05 101.61,227.25 102.65,229.2 103.69,230.9 104.72,232.37 105.76,233.62 106.8,234.69 107.84,235.59 108.88,236.34 109.92,236.97 110.96,237.49 112,237.93 113.03,238.28 114.07,238.58 115.11,238.82 116.15,239.02 117.19,239.18 118.23,239.32 119.27,239.43 120.31,239.52 121.34,239.59 122.38,239.65 123.42,239.7 124.46,239.74 125.5,239.77" fill="none" stroke="#231f20" stroke-width="0.6" stroke-linejoin="round" stroke-linecap="round" />
<polyline points="42.4,176.57 43.26,176.58 44.11,176.59 44.97,176.61 45.83,176.62 46.69,176.64 47.55,176.67 48.4,176.7 49.26,176.73 50.12,176.77 50.97,176.82 51.83,176.87 52.69,176.94 53.55,177.01 54.41,177.1 55.26,177.2 56.12,177.32 56.98,177.45 57.83,177.62 58.69,177.8 59.55,178.02 60.41,178.28 61.27,178.57 62.12,178.92 62.98,179.31 63.84,179.77 64.69,180.3 65.55,180.91 66.41,181.61 67.27,182.41 68.12,183.32 68.98,184.34 69.84,185.5 70.7,186.8 71.55,188.25 72.41,189.85 73.27,191.6 74.13,193.51 74.98,195.56 75.84,197.75 76.7,200.06 77.56,202.47 78.41,204.95 79.27,207.47 80.13,210 80.99,212.52 81.84,214.98 82.7,217.37 83.56,219.65 84.42,221.81 85.27,223.83 86.13,225.7 86.99,227.42 87.85,228.98 88.7,230.39 89.56,231.66 90.42,232.79 91.28,233.79 92.13,234.67 92.99,235.44 93.85,236.12 94.71,236.71 95.56,237.22 96.42,237.66 97.28,238.05 98.14,238.38 98.99,238.66 99.85,238.91 100.71,239.12 101.57,239.3 102.42,239.46 103.28,239.59 104.14,239.7 105,239.8 105.85,239.89 106.71,239.96 107.57,240.02 108.43,240.07 109.28,240.11 110.14,240.15 111,240.19" fill="none" stroke="#231f20" stroke-width="0.6" stroke-linejoin="round" stroke-linecap="round" />
<line x1="61.7" y1="172.9" x2="61.7" y2="177.9" stroke="#231f20" stroke-width="0.6" />
<line x1="60.4" y1="172.9" x2="63" y2="172.9" stroke="#231f20" stroke-width="0.6" />
<line x1="60.4" y1="177.9" x2="63" y2="177.9" stroke="#231f20" stroke-width="0.6" />
<line x1="91.1" y1="192.2" x2="91.1" y2="198.6" stroke="#231f20" stroke-width="0.6" />
<line x1="89.8" y1="192.2" x2="92.4" y2="192.2" stroke="#231f20" stroke-width="0.6" />
<line x1="89.8" y1="198.6" x2="92.4" y2="198.6" stroke="#231f20" stroke-width="0.6" />
<line x1="101.4" y1="221.6" x2="101.4" y2="230.6" stroke="#231f20" stroke-width="0.6" />
<line x1="100.1" y1="221.6" x2="102.7" y2="221.6" stroke="#231f20" stroke-width="0.6" />
<line x1="100.1" y1="230.6" x2="102.7" y2="230.6" stroke="#231f20" stroke-width="0.6" />
<line x1="96.3" y1="211.4" x2="96.3" y2="216.4" stroke="#231f20" stroke-width="0.6" />
<line x1="95" y1="211.4" x2="97.6" y2="211.4" stroke="#231f20" stroke-width="0.6" />
<line x1="95" y1="216.4" x2="97.6" y2="216.4" stroke="#231f20" stroke-width="0.6" />
<circle cx="42.4" cy="177.5" r="1.85" fill="#fff" stroke="#231f20" stroke-width="0.55"/>
<circle cx="47.23" cy="176.2" r="1.85" fill="#fff" stroke="#231f20" stroke-width="0.55"/>
<circle cx="52.06" cy="176.6" r="1.85" fill="#fff" stroke="#231f20" stroke-width="0.55"/>
<circle cx="56.89" cy="178" r="1.85" fill="#fff" stroke="#231f20" stroke-width="0.55"/>
<circle cx="61.72" cy="178.5" r="1.85" fill="#fff" stroke="#231f20" stroke-width="0.55"/>
<circle cx="66.55" cy="180.6" r="1.85" fill="#fff" stroke="#231f20" stroke-width="0.55"/>
<circle cx="71.38" cy="188" r="1.85" fill="#fff" stroke="#231f20" stroke-width="0.55"/>
<circle cx="76.21" cy="196.8" r="1.85" fill="#fff" stroke="#231f20" stroke-width="0.55"/>
<circle cx="81.04" cy="213.6" r="1.85" fill="#fff" stroke="#231f20" stroke-width="0.55"/>
<circle cx="85.87" cy="224.7" r="1.85" fill="#fff" stroke="#231f20" stroke-width="0.55"/>
<circle cx="90.7" cy="232" r="1.85" fill="#fff" stroke="#231f20" stroke-width="0.55"/>
<circle cx="95.53" cy="235.2" r="1.85" fill="#fff" stroke="#231f20" stroke-width="0.55"/>
<circle cx="100.36" cy="236.4" r="1.85" fill="#fff" stroke="#231f20" stroke-width="0.55"/>
<circle cx="105.19" cy="238.7" r="1.85" fill="#fff" stroke="#231f20" stroke-width="0.55"/>
<circle cx="110.02" cy="239.7" r="1.85" fill="#fff" stroke="#231f20" stroke-width="0.55"/>
<circle cx="42.4" cy="175.6" r="1.9" fill="#231f20"/>
<circle cx="47.23" cy="175.2" r="1.9" fill="#231f20"/>
<circle cx="52.06" cy="175.6" r="1.9" fill="#231f20"/>
<circle cx="56.89" cy="175.4" r="1.9" fill="#231f20"/>
<circle cx="61.72" cy="174.6" r="1.9" fill="#231f20"/>
<circle cx="66.55" cy="175.3" r="1.9" fill="#231f20"/>
<circle cx="71.38" cy="175.5" r="1.9" fill="#231f20"/>
<circle cx="76.21" cy="176" r="1.9" fill="#231f20"/>
<circle cx="81.04" cy="178.3" r="1.9" fill="#231f20"/>
<circle cx="85.87" cy="185.6" r="1.9" fill="#231f20"/>
<circle cx="90.7" cy="195.4" r="1.9" fill="#231f20"/>
<circle cx="95.53" cy="213.9" r="1.9" fill="#231f20"/>
<circle cx="100.36" cy="226.1" r="1.9" fill="#231f20"/>
<circle cx="105.19" cy="234.6" r="1.9" fill="#231f20"/>
<circle cx="110.02" cy="238" r="1.9" fill="#231f20"/>
<circle cx="114.85" cy="239" r="1.9" fill="#231f20"/>
<circle cx="119.68" cy="239.2" r="1.9" fill="#231f20"/>
<circle cx="124.51" cy="239.4" r="1.9" fill="#231f20"/>
<circle cx="105.8" cy="166.8" r="1.9" fill="#231f20"/>
<circle cx="105.8" cy="174.8" r="1.95" fill="#fff" stroke="#231f20" stroke-width="0.55"/>
<text transform="translate(112.2 169.4) scale(1 1.09)" font-size="7.4" textLength="20.2" lengthAdjust="spacingAndGlyphs" >− ATc</text>
<text transform="translate(112.4 178.2) scale(1 1.09)" font-size="7.4" textLength="20.5" lengthAdjust="spacingAndGlyphs" >+ ATc</text>
<text transform="translate(163.5 151.6) scale(1 0.95)" font-size="11" font-weight="bold" stroke="#231f20" stroke-width="0.25">f</text>
<line x1="191.4" y1="162.5" x2="191.4" y2="232.1" stroke="#6a6a6a" stroke-width="0.75" />
<line x1="189.2" y1="232.1" x2="191.4" y2="232.1" stroke="#6a6a6a" stroke-width="0.75" />
<text transform="translate(185.2 234.4) scale(1 1.09)" font-size="7.8" text-anchor="end" >0</text>
<line x1="189.2" y1="223.4" x2="191.4" y2="223.4" stroke="#6a6a6a" stroke-width="0.75" />
<text transform="translate(185.2 225.7) scale(1 1.09)" font-size="7.8" text-anchor="end" >1</text>
<line x1="189.2" y1="214.7" x2="191.4" y2="214.7" stroke="#6a6a6a" stroke-width="0.75" />
<text transform="translate(185.2 217) scale(1 1.09)" font-size="7.8" text-anchor="end" >2</text>
<line x1="189.2" y1="206" x2="191.4" y2="206" stroke="#6a6a6a" stroke-width="0.75" />
<text transform="translate(185.2 208.3) scale(1 1.09)" font-size="7.8" text-anchor="end" >3</text>
<line x1="189.2" y1="197.3" x2="191.4" y2="197.3" stroke="#6a6a6a" stroke-width="0.75" />
<text transform="translate(185.2 199.6) scale(1 1.09)" font-size="7.8" text-anchor="end" >4</text>
<line x1="189.2" y1="188.6" x2="191.4" y2="188.6" stroke="#6a6a6a" stroke-width="0.75" />
<text transform="translate(185.2 190.9) scale(1 1.09)" font-size="7.8" text-anchor="end" >5</text>
<line x1="189.2" y1="179.9" x2="191.4" y2="179.9" stroke="#6a6a6a" stroke-width="0.75" />
<text transform="translate(185.2 182.2) scale(1 1.09)" font-size="7.8" text-anchor="end" >6</text>
<line x1="189.2" y1="171.2" x2="191.4" y2="171.2" stroke="#6a6a6a" stroke-width="0.75" />
<text transform="translate(185.2 173.5) scale(1 1.09)" font-size="7.8" text-anchor="end" >7</text>
<line x1="189.2" y1="162.5" x2="191.4" y2="162.5" stroke="#6a6a6a" stroke-width="0.75" />
<text transform="translate(185.2 164.8) scale(1 1.09)" font-size="7.8" text-anchor="end" >8</text>
<line x1="189.3" y1="232.3" x2="355.3" y2="232.3" stroke="#6a6a6a" stroke-width="0.75" />
<line x1="200.4" y1="232.2" x2="200.4" y2="235.2" stroke="#6a6a6a" stroke-width="0.75" />
<line x1="221.25" y1="232.2" x2="221.25" y2="235.2" stroke="#6a6a6a" stroke-width="0.75" />
<line x1="242.1" y1="232.2" x2="242.1" y2="235.2" stroke="#6a6a6a" stroke-width="0.75" />
<line x1="262.95" y1="232.2" x2="262.95" y2="235.2" stroke="#6a6a6a" stroke-width="0.75" />
<line x1="283.8" y1="232.2" x2="283.8" y2="235.2" stroke="#6a6a6a" stroke-width="0.75" />
<line x1="304.65" y1="232.2" x2="304.65" y2="235.2" stroke="#6a6a6a" stroke-width="0.75" />
<line x1="325.5" y1="232.2" x2="325.5" y2="235.2" stroke="#6a6a6a" stroke-width="0.75" />
<line x1="346.35" y1="232.2" x2="346.35" y2="235.2" stroke="#6a6a6a" stroke-width="0.75" />
<text transform="translate(204.1 242.6) rotate(-44)" font-size="7.904" text-anchor="end" >− ATc</text>
<text transform="translate(224.95 242.6) rotate(-44)" font-size="7.904" text-anchor="end" >DMSO</text>
<text transform="translate(245.8 242.6) rotate(-44)" font-size="7.904" text-anchor="end" >Adenine</text>
<text transform="translate(266.65 242.6) rotate(-44)" font-size="7.904" text-anchor="end" >Adenosine</text>
<text transform="translate(287.5 242.6) rotate(-44)" font-size="7.904" text-anchor="end" >Guanosine</text>
<text transform="translate(308.35 242.6) rotate(-44)" font-size="7.904" text-anchor="end" >Inosine</text>
<text transform="translate(329.2 242.6) rotate(-44)" font-size="7.904" text-anchor="end" >Hypoxanthine</text>
<text transform="translate(350.05 242.6) rotate(-44)" font-size="7.904" text-anchor="end" >Guanine</text>
<text transform="translate(172 196.5) scale(1 1.09) rotate(-90)" font-size="7.4" text-anchor="middle" textLength="76.24" lengthAdjust="spacingAndGlyphs" >Growth (log<tspan font-size="5.2" dy="1.8">10</tspan><tspan dy="-1.8"> CFU ml</tspan><tspan font-size="5.2" dy="-2.6">−1</tspan><tspan dy="2.6">)</tspan></text>
<line x1="192" y1="182.3" x2="355.3" y2="182.3" stroke="#707070" stroke-width="0.7" stroke-dasharray="1.8 1.4"/>
<rect x="193" y="173.03" width="3.9" height="59.07" fill="#231f20" stroke="#231f20" stroke-width="0.3"/>
<line x1="194.95" y1="170.43" x2="194.95" y2="173.03" stroke="#231f20" stroke-width="0.5" />
<line x1="194.15" y1="170.43" x2="195.75" y2="170.43" stroke="#231f20" stroke-width="0.5" />
<circle cx="194.45" cy="174.25" r="0.95" fill="#231f20" stroke="#fff" stroke-width="0.45"/>
<circle cx="195.45" cy="175.12" r="0.95" fill="#231f20" stroke="#fff" stroke-width="0.45"/>
<rect x="199.3" y="172.77" width="3.6" height="59.33" fill="#4dc39b" stroke="#2f8f70" stroke-width="0.3"/>
<line x1="201.1" y1="170.17" x2="201.1" y2="172.77" stroke="#231f20" stroke-width="0.5" />
<line x1="200.3" y1="170.17" x2="201.9" y2="170.17" stroke="#231f20" stroke-width="0.5" />
<circle cx="200.6" cy="169.89" r="1" fill="#4dc39b" stroke="#1a3a3a" stroke-width="0.4"/>
<circle cx="201.6" cy="174.68" r="1" fill="#4dc39b" stroke="#1a3a3a" stroke-width="0.4"/>
<rect x="204.9" y="173.03" width="3.8" height="59.07" fill="#168a8e" stroke="#0e5f62" stroke-width="0.3"/>
<line x1="206.8" y1="170.43" x2="206.8" y2="173.03" stroke="#231f20" stroke-width="0.5" />
<line x1="206" y1="170.43" x2="207.6" y2="170.43" stroke="#231f20" stroke-width="0.5" />
<circle cx="206.3" cy="170.76" r="1" fill="#168a8e" stroke="#1a3a3a" stroke-width="0.4"/>
<circle cx="207.3" cy="173.81" r="1" fill="#168a8e" stroke="#1a3a3a" stroke-width="0.4"/>
<circle cx="206.8" cy="176.42" r="1" fill="#168a8e" stroke="#1a3a3a" stroke-width="0.4"/>
<rect x="213.8" y="173.03" width="3.9" height="59.07" fill="#231f20" stroke="#231f20" stroke-width="0.3"/>
<line x1="215.75" y1="170.43" x2="215.75" y2="173.03" stroke="#231f20" stroke-width="0.5" />
<line x1="214.95" y1="170.43" x2="216.55" y2="170.43" stroke="#231f20" stroke-width="0.5" />
<circle cx="215.25" cy="174.25" r="0.95" fill="#231f20" stroke="#fff" stroke-width="0.45"/>
<circle cx="216.25" cy="175.55" r="0.95" fill="#231f20" stroke="#fff" stroke-width="0.45"/>
<rect x="220.1" y="211.92" width="3.6" height="20.18" fill="#4dc39b" stroke="#2f8f70" stroke-width="0.3"/>
<line x1="221.9" y1="209.32" x2="221.9" y2="211.92" stroke="#231f20" stroke-width="0.5" />
<line x1="221.1" y1="209.32" x2="222.7" y2="209.32" stroke="#231f20" stroke-width="0.5" />
<circle cx="221.4" cy="210.78" r="1" fill="#4dc39b" stroke="#1a3a3a" stroke-width="0.4"/>
<circle cx="222.4" cy="212.96" r="1" fill="#4dc39b" stroke="#1a3a3a" stroke-width="0.4"/>
<rect x="225.7" y="211.31" width="3.8" height="20.79" fill="#168a8e" stroke="#0e5f62" stroke-width="0.3"/>
<line x1="227.6" y1="208.71" x2="227.6" y2="211.31" stroke="#231f20" stroke-width="0.5" />
<line x1="226.8" y1="208.71" x2="228.4" y2="208.71" stroke="#231f20" stroke-width="0.5" />
<circle cx="227.1" cy="208.61" r="1" fill="#168a8e" stroke="#1a3a3a" stroke-width="0.4"/>
<circle cx="228.1" cy="212.09" r="1" fill="#168a8e" stroke="#1a3a3a" stroke-width="0.4"/>
<rect x="234.6" y="174.16" width="3.9" height="57.94" fill="#231f20" stroke="#231f20" stroke-width="0.3"/>
<line x1="236.55" y1="171.56" x2="236.55" y2="174.16" stroke="#231f20" stroke-width="0.5" />
<line x1="235.75" y1="171.56" x2="237.35" y2="171.56" stroke="#231f20" stroke-width="0.5" />
<circle cx="236.05" cy="175.55" r="0.95" fill="#231f20" stroke="#fff" stroke-width="0.45"/>
<circle cx="237.05" cy="177.29" r="0.95" fill="#231f20" stroke="#fff" stroke-width="0.45"/>
<circle cx="236.55" cy="179.03" r="0.95" fill="#231f20" stroke="#fff" stroke-width="0.45"/>
<rect x="240.9" y="210.18" width="3.6" height="21.92" fill="#4dc39b" stroke="#2f8f70" stroke-width="0.3"/>
<line x1="242.7" y1="207.58" x2="242.7" y2="210.18" stroke="#231f20" stroke-width="0.5" />
<line x1="241.9" y1="207.58" x2="243.5" y2="207.58" stroke="#231f20" stroke-width="0.5" />
<circle cx="242.2" cy="209.48" r="1" fill="#4dc39b" stroke="#1a3a3a" stroke-width="0.4"/>
<circle cx="243.2" cy="211.22" r="1" fill="#4dc39b" stroke="#1a3a3a" stroke-width="0.4"/>
<rect x="246.5" y="211.92" width="3.8" height="20.18" fill="#168a8e" stroke="#0e5f62" stroke-width="0.3"/>
<line x1="248.4" y1="209.32" x2="248.4" y2="211.92" stroke="#231f20" stroke-width="0.5" />
<line x1="247.6" y1="209.32" x2="249.2" y2="209.32" stroke="#231f20" stroke-width="0.5" />
<circle cx="247.9" cy="210.35" r="1" fill="#168a8e" stroke="#1a3a3a" stroke-width="0.4"/>
<circle cx="248.9" cy="212.96" r="1" fill="#168a8e" stroke="#1a3a3a" stroke-width="0.4"/>
<rect x="255.4" y="174.94" width="3.9" height="57.16" fill="#231f20" stroke="#231f20" stroke-width="0.3"/>
<line x1="257.35" y1="172.34" x2="257.35" y2="174.94" stroke="#231f20" stroke-width="0.5" />
<line x1="256.55" y1="172.34" x2="258.15" y2="172.34" stroke="#231f20" stroke-width="0.5" />
<circle cx="256.85" cy="176.86" r="0.95" fill="#231f20" stroke="#fff" stroke-width="0.45"/>
<circle cx="257.85" cy="186.86" r="0.95" fill="#231f20" stroke="#fff" stroke-width="0.45"/>
<rect x="261.7" y="212.61" width="3.6" height="19.49" fill="#4dc39b" stroke="#2f8f70" stroke-width="0.3"/>
<line x1="263.5" y1="210.01" x2="263.5" y2="212.61" stroke="#231f20" stroke-width="0.5" />
<line x1="262.7" y1="210.01" x2="264.3" y2="210.01" stroke="#231f20" stroke-width="0.5" />
<circle cx="263" cy="212.09" r="1" fill="#4dc39b" stroke="#1a3a3a" stroke-width="0.4"/>
<circle cx="264" cy="214.7" r="1" fill="#4dc39b" stroke="#1a3a3a" stroke-width="0.4"/>
<rect x="267.3" y="208.96" width="3.8" height="23.14" fill="#168a8e" stroke="#0e5f62" stroke-width="0.3"/>
<line x1="269.2" y1="206.36" x2="269.2" y2="208.96" stroke="#231f20" stroke-width="0.5" />
<line x1="268.4" y1="206.36" x2="270" y2="206.36" stroke="#231f20" stroke-width="0.5" />
<circle cx="268.7" cy="207.74" r="1" fill="#168a8e" stroke="#1a3a3a" stroke-width="0.4"/>
<circle cx="269.7" cy="210.35" r="1" fill="#168a8e" stroke="#1a3a3a" stroke-width="0.4"/>
<rect x="276.2" y="175.72" width="3.9" height="56.38" fill="#231f20" stroke="#231f20" stroke-width="0.3"/>
<line x1="278.15" y1="173.12" x2="278.15" y2="175.72" stroke="#231f20" stroke-width="0.5" />
<line x1="277.35" y1="173.12" x2="278.95" y2="173.12" stroke="#231f20" stroke-width="0.5" />
<circle cx="277.65" cy="177.29" r="0.95" fill="#231f20" stroke="#fff" stroke-width="0.45"/>
<circle cx="278.65" cy="179.03" r="0.95" fill="#231f20" stroke="#fff" stroke-width="0.45"/>
<circle cx="278.15" cy="188.6" r="0.95" fill="#231f20" stroke="#fff" stroke-width="0.45"/>
<rect x="282.5" y="213.83" width="3.6" height="18.27" fill="#4dc39b" stroke="#2f8f70" stroke-width="0.3"/>
<line x1="284.3" y1="211.23" x2="284.3" y2="213.83" stroke="#231f20" stroke-width="0.5" />
<line x1="283.5" y1="211.23" x2="285.1" y2="211.23" stroke="#231f20" stroke-width="0.5" />
<circle cx="283.8" cy="213.83" r="1" fill="#4dc39b" stroke="#1a3a3a" stroke-width="0.4"/>
<rect x="288.1" y="212.61" width="3.8" height="19.49" fill="#168a8e" stroke="#0e5f62" stroke-width="0.3"/>
<line x1="290" y1="210.01" x2="290" y2="212.61" stroke="#231f20" stroke-width="0.5" />
<line x1="289.2" y1="210.01" x2="290.8" y2="210.01" stroke="#231f20" stroke-width="0.5" />
<circle cx="289.5" cy="210.35" r="1" fill="#168a8e" stroke="#1a3a3a" stroke-width="0.4"/>
<circle cx="290.5" cy="212.96" r="1" fill="#168a8e" stroke="#1a3a3a" stroke-width="0.4"/>
<rect x="297" y="175.72" width="3.9" height="56.38" fill="#231f20" stroke="#231f20" stroke-width="0.3"/>
<line x1="298.95" y1="173.12" x2="298.95" y2="175.72" stroke="#231f20" stroke-width="0.5" />
<line x1="298.15" y1="173.12" x2="299.75" y2="173.12" stroke="#231f20" stroke-width="0.5" />
<circle cx="298.45" cy="177.29" r="0.95" fill="#231f20" stroke="#fff" stroke-width="0.45"/>
<circle cx="299.45" cy="179.9" r="0.95" fill="#231f20" stroke="#fff" stroke-width="0.45"/>
<rect x="303.3" y="211.39" width="3.6" height="20.71" fill="#4dc39b" stroke="#2f8f70" stroke-width="0.3"/>
<line x1="305.1" y1="208.79" x2="305.1" y2="211.39" stroke="#231f20" stroke-width="0.5" />
<line x1="304.3" y1="208.79" x2="305.9" y2="208.79" stroke="#231f20" stroke-width="0.5" />
<circle cx="304.6" cy="210.35" r="1" fill="#4dc39b" stroke="#1a3a3a" stroke-width="0.4"/>
<circle cx="305.6" cy="212.09" r="1" fill="#4dc39b" stroke="#1a3a3a" stroke-width="0.4"/>
<rect x="308.9" y="211.92" width="3.8" height="20.18" fill="#168a8e" stroke="#0e5f62" stroke-width="0.3"/>
<line x1="310.8" y1="209.32" x2="310.8" y2="211.92" stroke="#231f20" stroke-width="0.5" />
<line x1="310" y1="209.32" x2="311.6" y2="209.32" stroke="#231f20" stroke-width="0.5" />
<circle cx="310.3" cy="211.22" r="1" fill="#168a8e" stroke="#1a3a3a" stroke-width="0.4"/>
<circle cx="311.3" cy="212.96" r="1" fill="#168a8e" stroke="#1a3a3a" stroke-width="0.4"/>
<rect x="317.8" y="175.9" width="3.9" height="56.2" fill="#231f20" stroke="#231f20" stroke-width="0.3"/>
<line x1="319.75" y1="173.3" x2="319.75" y2="175.9" stroke="#231f20" stroke-width="0.5" />
<line x1="318.95" y1="173.3" x2="320.55" y2="173.3" stroke="#231f20" stroke-width="0.5" />
<circle cx="319.25" cy="177.29" r="0.95" fill="#231f20" stroke="#fff" stroke-width="0.45"/>
<circle cx="320.25" cy="181.64" r="0.95" fill="#231f20" stroke="#fff" stroke-width="0.45"/>
<rect x="324.1" y="213.13" width="3.6" height="18.97" fill="#4dc39b" stroke="#2f8f70" stroke-width="0.3"/>
<line x1="325.9" y1="210.53" x2="325.9" y2="213.13" stroke="#231f20" stroke-width="0.5" />
<line x1="325.1" y1="210.53" x2="326.7" y2="210.53" stroke="#231f20" stroke-width="0.5" />
<circle cx="325.4" cy="212.09" r="1" fill="#4dc39b" stroke="#1a3a3a" stroke-width="0.4"/>
<circle cx="326.4" cy="213.83" r="1" fill="#4dc39b" stroke="#1a3a3a" stroke-width="0.4"/>
<rect x="329.7" y="210.96" width="3.8" height="21.14" fill="#168a8e" stroke="#0e5f62" stroke-width="0.3"/>
<line x1="331.6" y1="208.36" x2="331.6" y2="210.96" stroke="#231f20" stroke-width="0.5" />
<line x1="330.8" y1="208.36" x2="332.4" y2="208.36" stroke="#231f20" stroke-width="0.5" />
<circle cx="331.1" cy="209.48" r="1" fill="#168a8e" stroke="#1a3a3a" stroke-width="0.4"/>
<circle cx="332.1" cy="211.22" r="1" fill="#168a8e" stroke="#1a3a3a" stroke-width="0.4"/>
<rect x="338.6" y="173.9" width="3.9" height="58.2" fill="#231f20" stroke="#231f20" stroke-width="0.3"/>
<line x1="340.55" y1="171.3" x2="340.55" y2="173.9" stroke="#231f20" stroke-width="0.5" />
<line x1="339.75" y1="171.3" x2="341.35" y2="171.3" stroke="#231f20" stroke-width="0.5" />
<circle cx="340.05" cy="173.81" r="0.95" fill="#231f20" stroke="#fff" stroke-width="0.45"/>
<circle cx="341.05" cy="178.16" r="0.95" fill="#231f20" stroke="#fff" stroke-width="0.45"/>
<rect x="344.9" y="212.61" width="3.6" height="19.49" fill="#4dc39b" stroke="#2f8f70" stroke-width="0.3"/>
<line x1="346.7" y1="210.01" x2="346.7" y2="212.61" stroke="#231f20" stroke-width="0.5" />
<line x1="345.9" y1="210.01" x2="347.5" y2="210.01" stroke="#231f20" stroke-width="0.5" />
<circle cx="346.2" cy="211.22" r="1" fill="#4dc39b" stroke="#1a3a3a" stroke-width="0.4"/>
<circle cx="347.2" cy="213.83" r="1" fill="#4dc39b" stroke="#1a3a3a" stroke-width="0.4"/>
<rect x="350.5" y="212.09" width="3.8" height="20.01" fill="#168a8e" stroke="#0e5f62" stroke-width="0.3"/>
<line x1="352.4" y1="209.49" x2="352.4" y2="212.09" stroke="#231f20" stroke-width="0.5" />
<line x1="351.6" y1="209.49" x2="353.2" y2="209.49" stroke="#231f20" stroke-width="0.5" />
<circle cx="351.9" cy="209.48" r="1" fill="#168a8e" stroke="#1a3a3a" stroke-width="0.4"/>
<circle cx="352.9" cy="212.09" r="1" fill="#168a8e" stroke="#1a3a3a" stroke-width="0.4"/>
<line x1="207.3" y1="159.3" x2="228.5" y2="159.3" stroke="#231f20" stroke-width="2.6" />
<text transform="translate(232.9 161.9) scale(1 1.09)" font-size="7.6" textLength="25.3" lengthAdjust="spacingAndGlyphs" >Control</text>
<line x1="275.3" y1="155.8" x2="296.3" y2="155.8" stroke="#168a8e" stroke-width="2.4" />
<line x1="275.3" y1="163.1" x2="296.3" y2="163.1" stroke="#4dc39b" stroke-width="2.4" />
<text transform="translate(299.7 158.4) scale(1 1.09)" font-size="7.6" textLength="47" lengthAdjust="spacingAndGlyphs" ><tspan font-style="italic">purF</tspan> medium</text>
<text transform="translate(299.7 165.7) scale(1 1.09)" font-size="7.6" textLength="33.2" lengthAdjust="spacingAndGlyphs" ><tspan font-style="italic">purF</tspan> high</text>
<polyline points="214.2,274.6 214.2,281.2 354.6,281.2 354.6,274.6" fill="none" stroke="#555" stroke-width="0.7" stroke-linejoin="round" stroke-linecap="round" />
<text transform="translate(284.6 291.8) scale(1 1.09)" font-size="7.4" text-anchor="middle" textLength="138" lengthAdjust="spacingAndGlyphs" >10 µM nucleobase or nucleoside + ATc</text>
<text transform="translate(390.6 151.6) scale(1 0.95)" font-size="11" font-weight="bold" stroke="#231f20" stroke-width="0.25">g</text>
<line x1="421.2" y1="161.9" x2="421.2" y2="246.6" stroke="#6a6a6a" stroke-width="0.75" />
<line x1="419" y1="240.3" x2="421.2" y2="240.3" stroke="#6a6a6a" stroke-width="0.75" />
<text transform="translate(415.3 242.6) scale(1 1.09)" font-size="7.8" text-anchor="end" >0</text>
<line x1="419" y1="227.23" x2="421.2" y2="227.23" stroke="#6a6a6a" stroke-width="0.75" />
<text transform="translate(415.3 229.53) scale(1 1.09)" font-size="7.8" text-anchor="end" >20</text>
<line x1="419" y1="214.17" x2="421.2" y2="214.17" stroke="#6a6a6a" stroke-width="0.75" />
<text transform="translate(415.3 216.47) scale(1 1.09)" font-size="7.8" text-anchor="end" >40</text>
<line x1="419" y1="201.1" x2="421.2" y2="201.1" stroke="#6a6a6a" stroke-width="0.75" />
<text transform="translate(415.3 203.4) scale(1 1.09)" font-size="7.8" text-anchor="end" >60</text>
<line x1="419" y1="188.04" x2="421.2" y2="188.04" stroke="#6a6a6a" stroke-width="0.75" />
<text transform="translate(415.3 190.34) scale(1 1.09)" font-size="7.8" text-anchor="end" >80</text>
<line x1="419" y1="174.97" x2="421.2" y2="174.97" stroke="#6a6a6a" stroke-width="0.75" />
<text transform="translate(415.3 177.27) scale(1 1.09)" font-size="7.8" text-anchor="end" >100</text>
<line x1="419" y1="161.9" x2="421.2" y2="161.9" stroke="#6a6a6a" stroke-width="0.75" />
<text transform="translate(415.3 164.2) scale(1 1.09)" font-size="7.8" text-anchor="end" >120</text>
<line x1="421.2" y1="246.6" x2="519" y2="246.6" stroke="#6a6a6a" stroke-width="0.75" />
<line x1="423.4" y1="246.5" x2="423.4" y2="249.6" stroke="#6a6a6a" stroke-width="0.75" />
<line x1="437.23" y1="246.5" x2="437.23" y2="249.6" stroke="#6a6a6a" stroke-width="0.75" />
<line x1="451.06" y1="246.5" x2="451.06" y2="249.6" stroke="#6a6a6a" stroke-width="0.75" />
<line x1="464.89" y1="246.5" x2="464.89" y2="249.6" stroke="#6a6a6a" stroke-width="0.75" />
<line x1="478.72" y1="246.5" x2="478.72" y2="249.6" stroke="#6a6a6a" stroke-width="0.75" />
<line x1="492.55" y1="246.5" x2="492.55" y2="249.6" stroke="#6a6a6a" stroke-width="0.75" />
<line x1="506.38" y1="246.5" x2="506.38" y2="249.6" stroke="#6a6a6a" stroke-width="0.75" />
<text transform="translate(427.4 258) rotate(-44)" font-size="7.904" text-anchor="end" >0.01</text>
<text transform="translate(441.23 258) rotate(-44)" font-size="7.904" text-anchor="end" >0.1</text>
<text transform="translate(455.06 258) rotate(-44)" font-size="7.904" text-anchor="end" >1</text>
<text transform="translate(468.89 258) rotate(-44)" font-size="7.904" text-anchor="end" >10</text>
<text transform="translate(482.72 258) rotate(-44)" font-size="7.904" text-anchor="end" >100</text>
<text transform="translate(496.55 258) rotate(-44)" font-size="7.904" text-anchor="end" >1,000</text>
<text transform="translate(510.38 258) rotate(-44)" font-size="7.904" text-anchor="end" >10,000</text>
<text transform="translate(470.3 286.4) scale(1 1.09)" font-size="7.6" text-anchor="middle" textLength="52" lengthAdjust="spacingAndGlyphs" >JNJ-6640 (nM)</text>
<text transform="translate(397.3 203.7) scale(1 1.09) rotate(-90)" font-size="7.4" text-anchor="middle" textLength="43.49" lengthAdjust="spacingAndGlyphs" >Inhibition (%)</text>
<polyline points="422.4,232.42 423.22,232.41 424.04,232.4 424.87,232.39 425.69,232.37 426.51,232.36 427.33,232.33 428.16,232.3 428.98,232.27 429.8,232.23 430.62,232.17 431.45,232.11 432.27,232.03 433.09,231.93 433.91,231.82 434.74,231.67 435.56,231.5 436.38,231.28 437.2,231.03 438.03,230.71 438.85,230.33 439.67,229.88 440.5,229.33 441.32,228.67 442.14,227.88 442.96,226.95 443.78,225.85 444.61,224.56 445.43,223.07 446.25,221.36 447.07,219.42 447.9,217.25 448.72,214.86 449.54,212.27 450.37,209.52 451.19,206.65 452.01,203.71 452.83,200.77 453.65,197.88 454.48,195.09 455.3,192.47 456.12,190.03 456.94,187.81 457.77,185.82 458.59,184.06 459.41,182.53 460.24,181.2 461.06,180.06 461.88,179.09 462.7,178.27 463.52,177.58 464.35,177.01 465.17,176.54 465.99,176.14 466.81,175.81 467.64,175.54 468.46,175.32 469.28,175.14 470.1,174.99 470.93,174.87 471.75,174.77 472.57,174.69 473.39,174.62 474.22,174.56 475.04,174.52 475.86,174.48 476.69,174.45 477.51,174.43 478.33,174.41 479.15,174.39 479.97,174.38 480.8,174.37 481.62,174.36 482.44,174.35 483.26,174.34 484.09,174.34 484.91,174.33 485.73,174.33 486.55,174.33 487.38,174.33 488.2,174.32" fill="none" stroke="#231f20" stroke-width="0.6" stroke-linejoin="round" stroke-linecap="round" />
<polyline points="450.5,237.03 451.31,237.03 452.13,237.03 452.94,237.03 453.76,237.03 454.57,237.03 455.39,237.03 456.2,237.03 457.02,237.03 457.83,237.03 458.65,237.03 459.47,237.03 460.28,237.03 461.1,237.02 461.91,237.02 462.73,237.02 463.54,237.02 464.36,237.02 465.17,237.01 465.99,237.01 466.8,237.01 467.62,237 468.43,237 469.25,236.99 470.06,236.99 470.88,236.98 471.69,236.97 472.5,236.96 473.32,236.95 474.13,236.94 474.95,236.92 475.77,236.9 476.58,236.88 477.4,236.86 478.21,236.83 479.03,236.8 479.84,236.76 480.66,236.71 481.47,236.66 482.29,236.6 483.1,236.53 483.92,236.46 484.73,236.36 485.55,236.26 486.36,236.13 487.18,235.99 487.99,235.82 488.81,235.63 489.62,235.41 490.44,235.16 491.25,234.86 492.07,234.53 492.88,234.14 493.7,233.7 494.51,233.19 495.33,232.62 496.14,231.96 496.96,231.22 497.77,230.38 498.59,229.44 499.4,228.38 500.22,227.2 501.03,225.9 501.85,224.46 502.66,222.89 503.48,221.19 504.29,219.36 505.11,217.41 505.92,215.34 506.74,213.19 507.55,210.95 508.37,208.66 509.18,206.34 510,204.02 510.81,201.72 511.63,199.47 512.44,197.29 513.25,195.19 514.07,193.21 514.88,191.34 515.7,189.6" fill="none" stroke="#231f20" stroke-width="0.6" stroke-linejoin="round" stroke-linecap="round" />
<circle cx="450.5" cy="233.3" r="1.85" fill="#fff" stroke="#231f20" stroke-width="0.55"/>
<circle cx="450.5" cy="237.4" r="1.85" fill="#fff" stroke="#231f20" stroke-width="0.55"/>
<circle cx="456.8" cy="234" r="1.85" fill="#fff" stroke="#231f20" stroke-width="0.55"/>
<circle cx="456.8" cy="239.9" r="1.85" fill="#fff" stroke="#231f20" stroke-width="0.55"/>
<circle cx="463.3" cy="235.2" r="1.85" fill="#fff" stroke="#231f20" stroke-width="0.55"/>
<circle cx="463.3" cy="243" r="1.85" fill="#fff" stroke="#231f20" stroke-width="0.55"/>
<circle cx="469.9" cy="233.7" r="1.85" fill="#fff" stroke="#231f20" stroke-width="0.55"/>
<circle cx="469.9" cy="241.3" r="1.85" fill="#fff" stroke="#231f20" stroke-width="0.55"/>
<circle cx="476.5" cy="237.4" r="1.85" fill="#fff" stroke="#231f20" stroke-width="0.55"/>
<circle cx="476.5" cy="241.3" r="1.85" fill="#fff" stroke="#231f20" stroke-width="0.55"/>
<circle cx="483" cy="232" r="1.85" fill="#fff" stroke="#231f20" stroke-width="0.55"/>
<circle cx="483" cy="240.5" r="1.85" fill="#fff" stroke="#231f20" stroke-width="0.55"/>
<circle cx="489.4" cy="229.8" r="1.85" fill="#fff" stroke="#231f20" stroke-width="0.55"/>
<circle cx="489.4" cy="232" r="1.85" fill="#fff" stroke="#231f20" stroke-width="0.55"/>
<circle cx="496.3" cy="228.9" r="1.85" fill="#fff" stroke="#231f20" stroke-width="0.55"/>
<circle cx="496.3" cy="234.6" r="1.85" fill="#fff" stroke="#231f20" stroke-width="0.55"/>
<circle cx="502.9" cy="215.7" r="1.85" fill="#fff" stroke="#231f20" stroke-width="0.55"/>
<circle cx="502.9" cy="221.3" r="1.85" fill="#fff" stroke="#231f20" stroke-width="0.55"/>
<circle cx="509.4" cy="203.7" r="1.85" fill="#fff" stroke="#231f20" stroke-width="0.55"/>
<circle cx="509.4" cy="207.7" r="1.85" fill="#fff" stroke="#231f20" stroke-width="0.55"/>
<circle cx="515.7" cy="186.6" r="1.85" fill="#fff" stroke="#231f20" stroke-width="0.55"/>
<circle cx="515.7" cy="187.7" r="1.85" fill="#fff" stroke="#231f20" stroke-width="0.55"/>
<circle cx="422.4" cy="232.5" r="1.95" fill="#231f20"/>
<circle cx="429.3" cy="229.3" r="1.95" fill="#231f20"/>
<circle cx="429.3" cy="232.5" r="1.95" fill="#231f20"/>
<circle cx="436" cy="233" r="1.95" fill="#231f20"/>
<circle cx="436" cy="241.8" r="1.95" fill="#231f20"/>
<circle cx="442.4" cy="223" r="1.95" fill="#231f20"/>
<circle cx="442.4" cy="226.4" r="1.95" fill="#231f20"/>
<circle cx="449" cy="222" r="1.95" fill="#231f20"/>
<circle cx="448.7" cy="212.9" r="1.95" fill="#231f20"/>
<circle cx="455.6" cy="191.7" r="1.95" fill="#231f20"/>
<circle cx="455.4" cy="173.8" r="1.95" fill="#231f20"/>
<circle cx="461.9" cy="175.7" r="1.95" fill="#231f20"/>
<circle cx="461.9" cy="182.5" r="1.95" fill="#231f20"/>
<circle cx="468.8" cy="172.6" r="1.95" fill="#231f20"/>
<circle cx="468.8" cy="184.7" r="1.95" fill="#231f20"/>
<circle cx="475.1" cy="171.6" r="1.95" fill="#231f20"/>
<circle cx="475.1" cy="176" r="1.95" fill="#231f20"/>
<circle cx="482" cy="173.5" r="1.95" fill="#231f20"/>
<circle cx="482" cy="183.3" r="1.95" fill="#231f20"/>
<circle cx="488.2" cy="174.8" r="1.95" fill="#231f20"/>
<circle cx="488.2" cy="177" r="1.95" fill="#231f20"/>
<circle cx="426.5" cy="154.2" r="1.95" fill="#231f20"/>
<circle cx="426.5" cy="163.4" r="1.8" fill="#fff" stroke="#231f20" stroke-width="0.55"/>
<text transform="translate(431.9 156.8) scale(1 1.09)" font-size="7.6" textLength="26.3" lengthAdjust="spacingAndGlyphs" ><tspan font-style="italic">Mt</tspan>PurF</text>
<text transform="translate(431.9 166.4) scale(1 1.09)" font-size="7.6" textLength="28.9" lengthAdjust="spacingAndGlyphs" ><tspan font-style="italic">Hs</tspan>PPAT</text>
<text transform="translate(543.6 151.8) scale(1 0.95)" font-size="11" font-weight="bold" stroke="#231f20" stroke-width="0.25">h</text>
<rect x="590" y="150.1" width="14.3" height="5.15" fill="#2db34f"/>
<rect x="603.9" y="150.1" width="15.2" height="5.15" fill="#145c2a"/>
<rect x="618.7" y="150.1" width="15.5" height="5.15" fill="#5a0a10"/>
<rect x="633.8" y="150.1" width="16.7" height="5.15" fill="#2a0508"/>
<rect x="590" y="154.8" width="14.3" height="6.56" fill="#1e8040"/>
<rect x="603.9" y="154.8" width="15.2" height="6.56" fill="#052008"/>
<rect x="618.7" y="154.8" width="15.5" height="6.56" fill="#7a1820"/>
<rect x="633.8" y="154.8" width="16.7" height="6.56" fill="#c8343a"/>
<rect x="590" y="160.91" width="14.3" height="6.56" fill="#3cbb60"/>
<rect x="603.9" y="160.91" width="15.2" height="6.56" fill="#1e7a3c"/>
<rect x="618.7" y="160.91" width="15.5" height="6.56" fill="#5a0a10"/>
<rect x="633.8" y="160.91" width="16.7" height="6.56" fill="#7a1520"/>
<rect x="590" y="167.02" width="14.3" height="6.56" fill="#38b85a"/>
<rect x="603.9" y="167.02" width="15.2" height="6.56" fill="#1f8a45"/>
<rect x="618.7" y="167.02" width="15.5" height="6.56" fill="#3a0508"/>
<rect x="633.8" y="167.02" width="16.7" height="6.56" fill="#0f5a25"/>
<rect x="590" y="173.14" width="14.3" height="6.56" fill="#2db050"/>
<rect x="603.9" y="173.14" width="15.2" height="6.56" fill="#18602c"/>
<rect x="618.7" y="173.14" width="15.5" height="6.56" fill="#3d0508"/>
<rect x="633.8" y="173.14" width="16.7" height="6.56" fill="#4a0810"/>
<rect x="590" y="179.25" width="14.3" height="6.56" fill="#2aa84e"/>
<rect x="603.9" y="179.25" width="15.2" height="6.56" fill="#30b050"/>
<rect x="618.7" y="179.25" width="15.5" height="6.56" fill="#200305"/>
<rect x="633.8" y="179.25" width="16.7" height="6.56" fill="#5a0a10"/>
<rect x="590" y="185.36" width="14.3" height="6.56" fill="#28a84c"/>
<rect x="603.9" y="185.36" width="15.2" height="6.56" fill="#0d4a20"/>
<rect x="618.7" y="185.36" width="15.5" height="6.56" fill="#5c0a12"/>
<rect x="633.8" y="185.36" width="16.7" height="6.56" fill="#6a1018"/>
<rect x="590" y="191.47" width="14.3" height="6.56" fill="#28a84c"/>
<rect x="603.9" y="191.47" width="15.2" height="6.56" fill="#032408"/>
<rect x="618.7" y="191.47" width="15.5" height="6.56" fill="#7a1820"/>
<rect x="633.8" y="191.47" width="16.7" height="6.56" fill="#b02a32"/>
<rect x="590" y="197.58" width="14.3" height="6.56" fill="#28a84c"/>
<rect x="603.9" y="197.58" width="15.2" height="6.56" fill="#0f4d22"/>
<rect x="618.7" y="197.58" width="15.5" height="6.56" fill="#5a0a10"/>
<rect x="633.8" y="197.58" width="16.7" height="6.56" fill="#6a1018"/>
<rect x="590" y="203.7" width="14.3" height="6.56" fill="#28a84c"/>
<rect x="603.9" y="203.7" width="15.2" height="6.56" fill="#0f4d22"/>
<rect x="618.7" y="203.7" width="15.5" height="6.56" fill="#6a1018"/>
<rect x="633.8" y="203.7" width="16.7" height="6.56" fill="#8a1c24"/>
<rect x="590" y="209.81" width="14.3" height="6.56" fill="#28a84c"/>
<rect x="603.9" y="209.81" width="15.2" height="6.56" fill="#18702f"/>
<rect x="618.7" y="209.81" width="15.5" height="6.56" fill="#5a0a10"/>
<rect x="633.8" y="209.81" width="16.7" height="6.56" fill="#701420"/>
<rect x="590" y="215.92" width="14.3" height="6.56" fill="#28a84c"/>
<rect x="603.9" y="215.92" width="15.2" height="6.56" fill="#1c8038"/>
<rect x="618.7" y="215.92" width="15.5" height="6.56" fill="#1a0304"/>
<rect x="633.8" y="215.92" width="16.7" height="6.56" fill="#701420"/>
<rect x="590" y="222.03" width="14.3" height="6.56" fill="#28a84c"/>
<rect x="603.9" y="222.03" width="15.2" height="6.56" fill="#0f4d22"/>
<rect x="618.7" y="222.03" width="15.5" height="6.56" fill="#6a1018"/>
<rect x="633.8" y="222.03" width="16.7" height="6.56" fill="#7a1820"/>
<rect x="590" y="228.14" width="14.3" height="6.56" fill="#2db050"/>
<rect x="603.9" y="228.14" width="15.2" height="6.56" fill="#176a30"/>
<rect x="618.7" y="228.14" width="15.5" height="6.56" fill="#1f0305"/>
<rect x="633.8" y="228.14" width="16.7" height="6.56" fill="#5a0a10"/>
<rect x="590" y="234.26" width="14.3" height="6.56" fill="#1f8a42"/>
<rect x="603.9" y="234.26" width="15.2" height="6.56" fill="#176a30"/>
<rect x="618.7" y="234.26" width="15.5" height="6.56" fill="#8a1c24"/>
<rect x="633.8" y="234.26" width="16.7" height="6.56" fill="#3a0508"/>
<rect x="590" y="240.37" width="14.3" height="6.56" fill="#35b85a"/>
<rect x="603.9" y="240.37" width="15.2" height="6.56" fill="#176a30"/>
<rect x="618.7" y="240.37" width="15.5" height="6.56" fill="#4a0810"/>
<rect x="633.8" y="240.37" width="16.7" height="6.56" fill="#6a1018"/>
<rect x="590" y="246.48" width="14.3" height="6.56" fill="#2db050"/>
<rect x="603.9" y="246.48" width="15.2" height="6.56" fill="#135a28"/>
<rect x="618.7" y="246.48" width="15.5" height="6.56" fill="#5a0a10"/>
<rect x="633.8" y="246.48" width="16.7" height="6.56" fill="#450810"/>
<rect x="590" y="252.59" width="14.3" height="6.56" fill="#2db050"/>
<rect x="603.9" y="252.59" width="15.2" height="6.56" fill="#020202"/>
<rect x="618.7" y="252.59" width="15.5" height="6.56" fill="#7a1820"/>
<rect x="633.8" y="252.59" width="16.7" height="6.56" fill="#d0343c"/>
<rect x="590" y="258.7" width="14.3" height="7.8" fill="#2db050"/>
<rect x="603.9" y="258.7" width="15.2" height="7.8" fill="#042a0c"/>
<rect x="618.7" y="258.7" width="15.5" height="7.8" fill="#5a0a10"/>
<rect x="633.8" y="258.7" width="16.7" height="7.8" fill="#7a1820"/>
<line x1="587.3" y1="152.96" x2="589.8" y2="152.96" stroke="#666" stroke-width="0.8" />
<text transform="translate(583.4 155.66) scale(1 1.09)" font-size="7.85" text-anchor="end" >Bladder</text>
<line x1="587.3" y1="159.07" x2="589.8" y2="159.07" stroke="#666" stroke-width="0.8" />
<text transform="translate(583.4 161.77) scale(1 1.09)" font-size="7.85" text-anchor="end" >Blood</text>
<line x1="587.3" y1="165.18" x2="589.8" y2="165.18" stroke="#666" stroke-width="0.8" />
<text transform="translate(583.4 167.88) scale(1 1.09)" font-size="7.85" text-anchor="end" >Bone</text>
<line x1="587.3" y1="171.29" x2="589.8" y2="171.29" stroke="#666" stroke-width="0.8" />
<text transform="translate(583.4 173.99) scale(1 1.09)" font-size="7.85" text-anchor="end" >Brain</text>
<line x1="587.3" y1="177.4" x2="589.8" y2="177.4" stroke="#666" stroke-width="0.8" />
<text transform="translate(583.4 180.1) scale(1 1.09)" font-size="7.85" text-anchor="end" >Breast</text>
<line x1="587.3" y1="183.52" x2="589.8" y2="183.52" stroke="#666" stroke-width="0.8" />
<text transform="translate(583.4 186.22) scale(1 1.09)" font-size="7.85" text-anchor="end" >Cervix</text>
<line x1="587.3" y1="189.63" x2="589.8" y2="189.63" stroke="#666" stroke-width="0.8" />
<text transform="translate(583.4 192.33) scale(1 1.09)" font-size="7.85" text-anchor="end" >Colon</text>
<line x1="587.3" y1="195.74" x2="589.8" y2="195.74" stroke="#666" stroke-width="0.8" />
<text transform="translate(583.4 198.44) scale(1 1.09)" font-size="7.85" text-anchor="end" >Connective</text>
<line x1="587.3" y1="201.85" x2="589.8" y2="201.85" stroke="#666" stroke-width="0.8" />
<text transform="translate(583.4 204.55) scale(1 1.09)" font-size="7.85" text-anchor="end" >Kidney</text>
<line x1="587.3" y1="207.96" x2="589.8" y2="207.96" stroke="#666" stroke-width="0.8" />
<text transform="translate(583.4 210.66) scale(1 1.09)" font-size="7.85" text-anchor="end" >Liver</text>
<line x1="587.3" y1="214.08" x2="589.8" y2="214.08" stroke="#666" stroke-width="0.8" />
<text transform="translate(583.4 216.78) scale(1 1.09)" font-size="7.85" text-anchor="end" >Lung</text>
<line x1="587.3" y1="220.19" x2="589.8" y2="220.19" stroke="#666" stroke-width="0.8" />
<text transform="translate(583.4 222.89) scale(1 1.09)" font-size="7.85" text-anchor="end" >Muscle</text>
<line x1="587.3" y1="226.3" x2="589.8" y2="226.3" stroke="#666" stroke-width="0.8" />
<text transform="translate(583.4 229) scale(1 1.09)" font-size="7.85" text-anchor="end" >Ovarian</text>
<line x1="587.3" y1="232.41" x2="589.8" y2="232.41" stroke="#666" stroke-width="0.8" />
<text transform="translate(583.4 235.11) scale(1 1.09)" font-size="7.85" text-anchor="end" >Pancreas</text>
<line x1="587.3" y1="238.52" x2="589.8" y2="238.52" stroke="#666" stroke-width="0.8" />
<text transform="translate(583.4 241.22) scale(1 1.09)" font-size="7.85" text-anchor="end" >Placenta</text>
<line x1="587.3" y1="244.64" x2="589.8" y2="244.64" stroke="#666" stroke-width="0.8" />
<text transform="translate(583.4 247.34) scale(1 1.09)" font-size="7.85" text-anchor="end" >Prostate</text>
<line x1="587.3" y1="250.75" x2="589.8" y2="250.75" stroke="#666" stroke-width="0.8" />
<text transform="translate(583.4 253.45) scale(1 1.09)" font-size="7.85" text-anchor="end" >Skin</text>
<line x1="587.3" y1="256.86" x2="589.8" y2="256.86" stroke="#666" stroke-width="0.8" />
<text transform="translate(583.4 259.56) scale(1 1.09)" font-size="7.85" text-anchor="end" >Squamous</text>
<line x1="587.3" y1="262.97" x2="589.8" y2="262.97" stroke="#666" stroke-width="0.8" />
<text transform="translate(583.4 265.67) scale(1 1.09)" font-size="7.85" text-anchor="end" >Uterus</text>
<line x1="597.5" y1="266.5" x2="597.5" y2="269.6" stroke="#666" stroke-width="0.7" />
<line x1="612.4" y1="266.5" x2="612.4" y2="269.6" stroke="#666" stroke-width="0.7" />
<line x1="627.4" y1="266.5" x2="627.4" y2="269.6" stroke="#666" stroke-width="0.7" />
<line x1="642.4" y1="266.5" x2="642.4" y2="269.6" stroke="#666" stroke-width="0.7" />
<text transform="translate(600.7 276.5) rotate(-44)" font-size="8.32" text-anchor="end" >6640</text>
<text transform="translate(615.6 276.5) rotate(-44)" font-size="8.32" text-anchor="end" >Aza</text>
<text transform="translate(630.6 276.5) rotate(-44)" font-size="8.32" text-anchor="end" >MPA</text>
<text transform="translate(645.6 276.5) rotate(-44)" font-size="8.32" text-anchor="end" >MMPR</text>
<defs><linearGradient id="cb" x1="0" y1="0" x2="0" y2="1"><stop offset="0" stop-color="#c83038"/><stop offset="0.25" stop-color="#8a1c24"/><stop offset="0.48" stop-color="#2a0508"/><stop offset="0.55" stop-color="#000"/><stop offset="0.64" stop-color="#03250c"/><stop offset="0.85" stop-color="#1c8a42"/><stop offset="1" stop-color="#3cc060"/></linearGradient></defs>
<rect x="659.8" y="183.8" width="10.9" height="46.9" fill="url(#cb)" stroke="#555" stroke-width="0.4"/>
<text transform="translate(671.6 189.2) scale(1 1.09)" font-size="7.4" >7.0</text>
<text transform="translate(671.6 196.7) scale(1 1.09)" font-size="7.4" >6.5</text>
<text transform="translate(671.6 204.2) scale(1 1.09)" font-size="7.4" >6.0</text>
<text transform="translate(671.6 211.7) scale(1 1.09)" font-size="7.4" >5.5</text>
<text transform="translate(671.6 219.2) scale(1 1.09)" font-size="7.4" >5.0</text>
<text transform="translate(671.6 226.7) scale(1 1.09)" font-size="7.4" >4.5</text>
<line x1="660.5" y1="186.6" x2="663" y2="186.6" stroke="#300" stroke-width="0.5" />
<line x1="667.5" y1="186.6" x2="670" y2="186.6" stroke="#300" stroke-width="0.5" />
<line x1="660.5" y1="224.1" x2="663" y2="224.1" stroke="#030" stroke-width="0.5" />
<line x1="667.5" y1="224.1" x2="670" y2="224.1" stroke="#030" stroke-width="0.5" />
<text transform="translate(663.4 177.2) scale(1 1.09)" font-size="7.6" >pIC<tspan font-size="5.2" dy="1.8">50</tspan></text>
</svg></body></html>
